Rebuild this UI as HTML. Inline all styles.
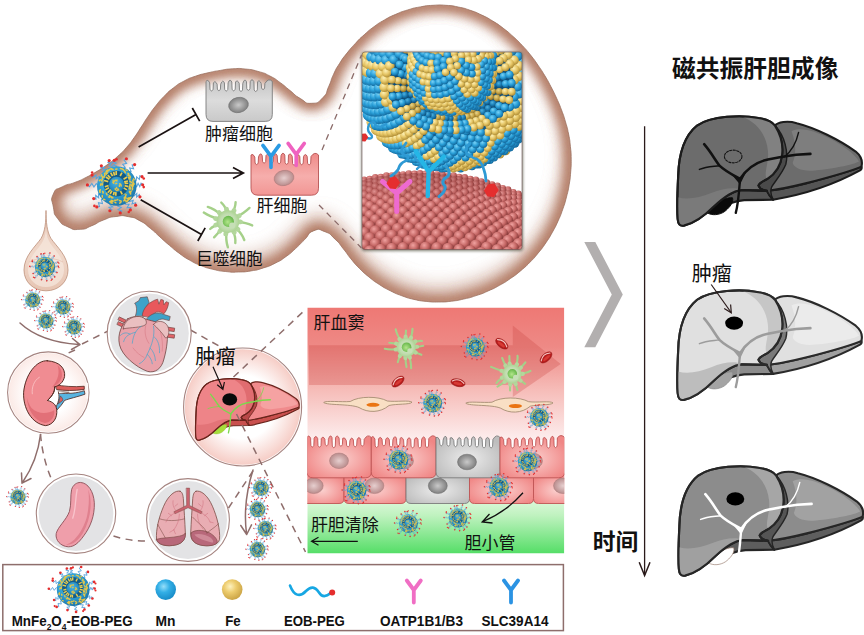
<!DOCTYPE html>
<html lang="zh"><head><meta charset="utf-8"><title>MnFe2O4-EOB-PEG</title>
<style>
html,body{margin:0;padding:0;background:#fff;}
svg{display:block;}
text{font-family:"Liberation Sans","Noto Sans CJK SC",sans-serif;fill:#111;}
.b{font-weight:bold;}
</style></head><body>
<svg width="864" height="635" viewBox="0 0 864 635">
<rect width="864" height="635" fill="#fff"/>
<defs><clipPath id="blobclip"><path d="M53.4,193.9C56.4,187.1 55.3,190.5 62.5,186.7C69.7,182.9 67.1,185.5 74.9,182.4C82.8,179.4 78.7,181.1 86.1,177.4C93.5,173.7 89.8,175.7 97.1,171.3C104.3,167 100.9,169.3 107.8,164.3C114.7,159.3 111.5,161.9 117.8,156.2C124.1,150.6 121.2,153.5 126.7,147.2C132.2,140.9 129.5,144.1 134.4,137.3C139.2,130.5 136.7,133.8 141.3,126.8C145.9,119.8 143.4,123.2 148.2,116.2C153,109.3 150.4,112.5 155.7,105.9C161,99.3 158.1,102.4 164,96.4C169.9,90.4 166.7,93.1 173.3,88C179.9,82.9 176.4,85.1 183.8,81.2C191.2,77.2 187.4,79 195.5,76.2C203.6,73.4 199.7,74.8 208,72.8C216.3,70.9 212.2,71.7 220.4,70.4C228.6,69 224.3,69.3 232.6,68.8C240.9,68.4 236.8,68.2 245.3,69C253.7,69.9 249.8,69.1 258,71.4C266.2,73.7 262.4,72.2 269.9,76C277.3,79.8 273.6,77.9 280.3,82.7C287.1,87.6 283.5,85.4 290.1,90.6C296.8,95.9 293.1,94.3 300.3,98.5C307.4,102.8 304.2,103.6 311.7,103.3C319.2,103 317.1,103.3 322.8,97.7C328.5,92 325.2,94.1 328.8,86.3C332.3,78.6 329.9,82 333.5,74.4C337.1,66.8 335,70.6 339.5,63.5C344,56.4 341.7,59.8 347,53.1C352.3,46.4 349.6,49.6 355.4,43.4C361.2,37.2 358.2,40.1 364.4,34.6C370.6,29 367.3,31.6 374,26.7C380.7,21.8 377.2,24.1 384.5,19.9C391.7,15.8 388,17.6 395.8,14.3C403.6,10.9 399.7,12.4 407.8,9.9C416,7.4 411.9,8.4 420.3,6.9C428.8,5.3 424.6,5.8 433.1,5.3C441.5,4.8 437.4,4.7 445.8,5.3C454.1,5.9 450,5.3 458.2,7C466.3,8.7 462.3,7.6 470.2,10.3C478.1,13 474.2,11.5 481.8,15.1C489.3,18.7 485.6,16.7 492.8,21.1C500,25.5 496.5,23.2 503.3,28.3C510,33.4 506.8,30.8 513.1,36.5C519.4,42.2 516.3,39.2 522.2,45.4C528,51.6 525.2,48.4 530.5,55C535.8,61.6 533.2,58.2 538,65.2C542.8,72.1 540.5,68.6 544.9,75.8C549.2,83 547.1,79.3 551,86.8C554.9,94.3 553.1,90.5 556.6,98.2C560.1,105.9 558.5,102 561.5,109.9C564.4,117.8 563.2,113.8 565.5,121.9C567.9,130 566.9,125.9 568.6,134.1C570.2,142.4 569.6,138.3 570.4,146.6C571.3,155 571.1,150.8 571.2,159.2C571.2,167.7 571.4,163.5 570.7,171.9C570,180.3 570.6,176.1 569.2,184.5C567.8,192.8 568.6,188.7 566.5,196.9C564.4,205.1 565.6,201.1 562.8,209.1C560,217.1 561.6,213.2 558.1,220.9C554.6,228.6 556.5,224.8 552.4,232.2C548.3,239.5 550.5,236 545.8,242.9C541,249.9 543.5,246.5 538.2,253C532.9,259.5 535.7,256.4 529.8,262.4C523.8,268.4 526.9,265.5 520.5,270.9C514,276.4 517.3,273.8 510.3,278.6C503.4,283.4 506.9,281.2 499.5,285.3C492.1,289.5 495.8,287.6 488,291C480.3,294.5 484.2,293 476.1,295.6C468.1,298.3 472.1,297.2 463.8,299C455.6,300.9 459.7,300.2 451.4,301.2C443,302.2 447.2,301.9 438.8,302C430.4,302.1 434.6,302.3 426.3,301.4C418,300.5 422.1,301.2 413.9,299.4C405.8,297.5 409.8,298.6 401.9,295.8C394,292.9 397.8,294.5 390.3,290.8C382.8,287 386.4,289.1 379.3,284.5C372.2,279.9 375.6,282.3 369,277C362.4,271.6 365.5,274.5 359.5,268.4C353.5,262.4 356.4,265.5 351,258.9C345.6,252.4 348.6,255.3 343.3,248.8C338,242.2 341.3,244.9 335.1,239.2C329,233.5 332.1,234.4 324.9,231.7C317.6,228.9 320.2,228.3 313.4,230.9C306.6,233.6 310.5,233.7 304.6,239.6C298.6,245.5 301.8,242.8 295.5,248.6C289.3,254.3 292.7,251.8 285.8,256.7C279,261.6 282.6,259.5 275.1,263.2C267.6,267 271.4,265.4 263.4,267.9C255.3,270.5 259.4,269.5 251,270.9C242.7,272.2 246.8,271.8 238.3,272C229.8,272.3 234,272.4 225.5,271.5C217.1,270.6 221.2,271.3 212.9,269.3C204.7,267.3 208.6,268.6 200.8,265.5C193,262.4 196.8,264.2 189.5,260.1C182.3,256 185.8,258.2 179.1,253.2C172.4,248.3 175.8,250.8 169.4,245.3C162.9,239.9 166.2,242.6 159.9,236.9C153.5,231.2 156.9,233.6 150.3,228.3C143.7,223 147.4,224.8 140.1,220.9C132.9,217.1 136.6,218.2 128.6,216.7C120.5,215.2 124.3,215.4 116,216.5C107.6,217.5 111.5,216.9 103.5,220C95.4,223 99.6,222.6 91.8,225.7C84,228.8 88.1,228.9 80.1,229.3C72.2,229.7 75.4,230.4 68,226.9C60.5,223.4 62.8,225.4 57.9,218.8C53,212.3 54.9,215.5 53.4,207.2C51.9,198.9 50.3,200.7 53.4,193.9Z"/></clipPath><filter id="blobblur" x="-10%" y="-10%" width="120%" height="120%"><feGaussianBlur stdDeviation="7"/><feComponentTransfer><feFuncA type="linear" slope="2.5"/></feComponentTransfer></filter><filter id="blobblur2" x="-10%" y="-10%" width="120%" height="120%"><feGaussianBlur stdDeviation="10"/><feComponentTransfer><feFuncA type="linear" slope="2.0"/></feComponentTransfer><feOffset dy="-8"/></filter></defs>
<g clip-path="url(#blobclip)"><path d="M53.4,193.9C56.4,187.1 55.3,190.5 62.5,186.7C69.7,182.9 67.1,185.5 74.9,182.4C82.8,179.4 78.7,181.1 86.1,177.4C93.5,173.7 89.8,175.7 97.1,171.3C104.3,167 100.9,169.3 107.8,164.3C114.7,159.3 111.5,161.9 117.8,156.2C124.1,150.6 121.2,153.5 126.7,147.2C132.2,140.9 129.5,144.1 134.4,137.3C139.2,130.5 136.7,133.8 141.3,126.8C145.9,119.8 143.4,123.2 148.2,116.2C153,109.3 150.4,112.5 155.7,105.9C161,99.3 158.1,102.4 164,96.4C169.9,90.4 166.7,93.1 173.3,88C179.9,82.9 176.4,85.1 183.8,81.2C191.2,77.2 187.4,79 195.5,76.2C203.6,73.4 199.7,74.8 208,72.8C216.3,70.9 212.2,71.7 220.4,70.4C228.6,69 224.3,69.3 232.6,68.8C240.9,68.4 236.8,68.2 245.3,69C253.7,69.9 249.8,69.1 258,71.4C266.2,73.7 262.4,72.2 269.9,76C277.3,79.8 273.6,77.9 280.3,82.7C287.1,87.6 283.5,85.4 290.1,90.6C296.8,95.9 293.1,94.3 300.3,98.5C307.4,102.8 304.2,103.6 311.7,103.3C319.2,103 317.1,103.3 322.8,97.7C328.5,92 325.2,94.1 328.8,86.3C332.3,78.6 329.9,82 333.5,74.4C337.1,66.8 335,70.6 339.5,63.5C344,56.4 341.7,59.8 347,53.1C352.3,46.4 349.6,49.6 355.4,43.4C361.2,37.2 358.2,40.1 364.4,34.6C370.6,29 367.3,31.6 374,26.7C380.7,21.8 377.2,24.1 384.5,19.9C391.7,15.8 388,17.6 395.8,14.3C403.6,10.9 399.7,12.4 407.8,9.9C416,7.4 411.9,8.4 420.3,6.9C428.8,5.3 424.6,5.8 433.1,5.3C441.5,4.8 437.4,4.7 445.8,5.3C454.1,5.9 450,5.3 458.2,7C466.3,8.7 462.3,7.6 470.2,10.3C478.1,13 474.2,11.5 481.8,15.1C489.3,18.7 485.6,16.7 492.8,21.1C500,25.5 496.5,23.2 503.3,28.3C510,33.4 506.8,30.8 513.1,36.5C519.4,42.2 516.3,39.2 522.2,45.4C528,51.6 525.2,48.4 530.5,55C535.8,61.6 533.2,58.2 538,65.2C542.8,72.1 540.5,68.6 544.9,75.8C549.2,83 547.1,79.3 551,86.8C554.9,94.3 553.1,90.5 556.6,98.2C560.1,105.9 558.5,102 561.5,109.9C564.4,117.8 563.2,113.8 565.5,121.9C567.9,130 566.9,125.9 568.6,134.1C570.2,142.4 569.6,138.3 570.4,146.6C571.3,155 571.1,150.8 571.2,159.2C571.2,167.7 571.4,163.5 570.7,171.9C570,180.3 570.6,176.1 569.2,184.5C567.8,192.8 568.6,188.7 566.5,196.9C564.4,205.1 565.6,201.1 562.8,209.1C560,217.1 561.6,213.2 558.1,220.9C554.6,228.6 556.5,224.8 552.4,232.2C548.3,239.5 550.5,236 545.8,242.9C541,249.9 543.5,246.5 538.2,253C532.9,259.5 535.7,256.4 529.8,262.4C523.8,268.4 526.9,265.5 520.5,270.9C514,276.4 517.3,273.8 510.3,278.6C503.4,283.4 506.9,281.2 499.5,285.3C492.1,289.5 495.8,287.6 488,291C480.3,294.5 484.2,293 476.1,295.6C468.1,298.3 472.1,297.2 463.8,299C455.6,300.9 459.7,300.2 451.4,301.2C443,302.2 447.2,301.9 438.8,302C430.4,302.1 434.6,302.3 426.3,301.4C418,300.5 422.1,301.2 413.9,299.4C405.8,297.5 409.8,298.6 401.9,295.8C394,292.9 397.8,294.5 390.3,290.8C382.8,287 386.4,289.1 379.3,284.5C372.2,279.9 375.6,282.3 369,277C362.4,271.6 365.5,274.5 359.5,268.4C353.5,262.4 356.4,265.5 351,258.9C345.6,252.4 348.6,255.3 343.3,248.8C338,242.2 341.3,244.9 335.1,239.2C329,233.5 332.1,234.4 324.9,231.7C317.6,228.9 320.2,228.3 313.4,230.9C306.6,233.6 310.5,233.7 304.6,239.6C298.6,245.5 301.8,242.8 295.5,248.6C289.3,254.3 292.7,251.8 285.8,256.7C279,261.6 282.6,259.5 275.1,263.2C267.6,267 271.4,265.4 263.4,267.9C255.3,270.5 259.4,269.5 251,270.9C242.7,272.2 246.8,271.8 238.3,272C229.8,272.3 234,272.4 225.5,271.5C217.1,270.6 221.2,271.3 212.9,269.3C204.7,267.3 208.6,268.6 200.8,265.5C193,262.4 196.8,264.2 189.5,260.1C182.3,256 185.8,258.2 179.1,253.2C172.4,248.3 175.8,250.8 169.4,245.3C162.9,239.9 166.2,242.6 159.9,236.9C153.5,231.2 156.9,233.6 150.3,228.3C143.7,223 147.4,224.8 140.1,220.9C132.9,217.1 136.6,218.2 128.6,216.7C120.5,215.2 124.3,215.4 116,216.5C107.6,217.5 111.5,216.9 103.5,220C95.4,223 99.6,222.6 91.8,225.7C84,228.8 88.1,228.9 80.1,229.3C72.2,229.7 75.4,230.4 68,226.9C60.5,223.4 62.8,225.4 57.9,218.8C53,212.3 54.9,215.5 53.4,207.2C51.9,198.9 50.3,200.7 53.4,193.9Z" fill="none" stroke="#caa595" stroke-width="6" filter="url(#blobblur2)"/><path d="M53.4,193.9C56.4,187.1 55.3,190.5 62.5,186.7C69.7,182.9 67.1,185.5 74.9,182.4C82.8,179.4 78.7,181.1 86.1,177.4C93.5,173.7 89.8,175.7 97.1,171.3C104.3,167 100.9,169.3 107.8,164.3C114.7,159.3 111.5,161.9 117.8,156.2C124.1,150.6 121.2,153.5 126.7,147.2C132.2,140.9 129.5,144.1 134.4,137.3C139.2,130.5 136.7,133.8 141.3,126.8C145.9,119.8 143.4,123.2 148.2,116.2C153,109.3 150.4,112.5 155.7,105.9C161,99.3 158.1,102.4 164,96.4C169.9,90.4 166.7,93.1 173.3,88C179.9,82.9 176.4,85.1 183.8,81.2C191.2,77.2 187.4,79 195.5,76.2C203.6,73.4 199.7,74.8 208,72.8C216.3,70.9 212.2,71.7 220.4,70.4C228.6,69 224.3,69.3 232.6,68.8C240.9,68.4 236.8,68.2 245.3,69C253.7,69.9 249.8,69.1 258,71.4C266.2,73.7 262.4,72.2 269.9,76C277.3,79.8 273.6,77.9 280.3,82.7C287.1,87.6 283.5,85.4 290.1,90.6C296.8,95.9 293.1,94.3 300.3,98.5C307.4,102.8 304.2,103.6 311.7,103.3C319.2,103 317.1,103.3 322.8,97.7C328.5,92 325.2,94.1 328.8,86.3C332.3,78.6 329.9,82 333.5,74.4C337.1,66.8 335,70.6 339.5,63.5C344,56.4 341.7,59.8 347,53.1C352.3,46.4 349.6,49.6 355.4,43.4C361.2,37.2 358.2,40.1 364.4,34.6C370.6,29 367.3,31.6 374,26.7C380.7,21.8 377.2,24.1 384.5,19.9C391.7,15.8 388,17.6 395.8,14.3C403.6,10.9 399.7,12.4 407.8,9.9C416,7.4 411.9,8.4 420.3,6.9C428.8,5.3 424.6,5.8 433.1,5.3C441.5,4.8 437.4,4.7 445.8,5.3C454.1,5.9 450,5.3 458.2,7C466.3,8.7 462.3,7.6 470.2,10.3C478.1,13 474.2,11.5 481.8,15.1C489.3,18.7 485.6,16.7 492.8,21.1C500,25.5 496.5,23.2 503.3,28.3C510,33.4 506.8,30.8 513.1,36.5C519.4,42.2 516.3,39.2 522.2,45.4C528,51.6 525.2,48.4 530.5,55C535.8,61.6 533.2,58.2 538,65.2C542.8,72.1 540.5,68.6 544.9,75.8C549.2,83 547.1,79.3 551,86.8C554.9,94.3 553.1,90.5 556.6,98.2C560.1,105.9 558.5,102 561.5,109.9C564.4,117.8 563.2,113.8 565.5,121.9C567.9,130 566.9,125.9 568.6,134.1C570.2,142.4 569.6,138.3 570.4,146.6C571.3,155 571.1,150.8 571.2,159.2C571.2,167.7 571.4,163.5 570.7,171.9C570,180.3 570.6,176.1 569.2,184.5C567.8,192.8 568.6,188.7 566.5,196.9C564.4,205.1 565.6,201.1 562.8,209.1C560,217.1 561.6,213.2 558.1,220.9C554.6,228.6 556.5,224.8 552.4,232.2C548.3,239.5 550.5,236 545.8,242.9C541,249.9 543.5,246.5 538.2,253C532.9,259.5 535.7,256.4 529.8,262.4C523.8,268.4 526.9,265.5 520.5,270.9C514,276.4 517.3,273.8 510.3,278.6C503.4,283.4 506.9,281.2 499.5,285.3C492.1,289.5 495.8,287.6 488,291C480.3,294.5 484.2,293 476.1,295.6C468.1,298.3 472.1,297.2 463.8,299C455.6,300.9 459.7,300.2 451.4,301.2C443,302.2 447.2,301.9 438.8,302C430.4,302.1 434.6,302.3 426.3,301.4C418,300.5 422.1,301.2 413.9,299.4C405.8,297.5 409.8,298.6 401.9,295.8C394,292.9 397.8,294.5 390.3,290.8C382.8,287 386.4,289.1 379.3,284.5C372.2,279.9 375.6,282.3 369,277C362.4,271.6 365.5,274.5 359.5,268.4C353.5,262.4 356.4,265.5 351,258.9C345.6,252.4 348.6,255.3 343.3,248.8C338,242.2 341.3,244.9 335.1,239.2C329,233.5 332.1,234.4 324.9,231.7C317.6,228.9 320.2,228.3 313.4,230.9C306.6,233.6 310.5,233.7 304.6,239.6C298.6,245.5 301.8,242.8 295.5,248.6C289.3,254.3 292.7,251.8 285.8,256.7C279,261.6 282.6,259.5 275.1,263.2C267.6,267 271.4,265.4 263.4,267.9C255.3,270.5 259.4,269.5 251,270.9C242.7,272.2 246.8,271.8 238.3,272C229.8,272.3 234,272.4 225.5,271.5C217.1,270.6 221.2,271.3 212.9,269.3C204.7,267.3 208.6,268.6 200.8,265.5C193,262.4 196.8,264.2 189.5,260.1C182.3,256 185.8,258.2 179.1,253.2C172.4,248.3 175.8,250.8 169.4,245.3C162.9,239.9 166.2,242.6 159.9,236.9C153.5,231.2 156.9,233.6 150.3,228.3C143.7,223 147.4,224.8 140.1,220.9C132.9,217.1 136.6,218.2 128.6,216.7C120.5,215.2 124.3,215.4 116,216.5C107.6,217.5 111.5,216.9 103.5,220C95.4,223 99.6,222.6 91.8,225.7C84,228.8 88.1,228.9 80.1,229.3C72.2,229.7 75.4,230.4 68,226.9C60.5,223.4 62.8,225.4 57.9,218.8C53,212.3 54.9,215.5 53.4,207.2C51.9,198.9 50.3,200.7 53.4,193.9Z" fill="none" stroke="#b27a64" stroke-width="6" filter="url(#blobblur)"/></g>
<path d="M53.4,193.9C56.4,187.1 55.3,190.5 62.5,186.7C69.7,182.9 67.1,185.5 74.9,182.4C82.8,179.4 78.7,181.1 86.1,177.4C93.5,173.7 89.8,175.7 97.1,171.3C104.3,167 100.9,169.3 107.8,164.3C114.7,159.3 111.5,161.9 117.8,156.2C124.1,150.6 121.2,153.5 126.7,147.2C132.2,140.9 129.5,144.1 134.4,137.3C139.2,130.5 136.7,133.8 141.3,126.8C145.9,119.8 143.4,123.2 148.2,116.2C153,109.3 150.4,112.5 155.7,105.9C161,99.3 158.1,102.4 164,96.4C169.9,90.4 166.7,93.1 173.3,88C179.9,82.9 176.4,85.1 183.8,81.2C191.2,77.2 187.4,79 195.5,76.2C203.6,73.4 199.7,74.8 208,72.8C216.3,70.9 212.2,71.7 220.4,70.4C228.6,69 224.3,69.3 232.6,68.8C240.9,68.4 236.8,68.2 245.3,69C253.7,69.9 249.8,69.1 258,71.4C266.2,73.7 262.4,72.2 269.9,76C277.3,79.8 273.6,77.9 280.3,82.7C287.1,87.6 283.5,85.4 290.1,90.6C296.8,95.9 293.1,94.3 300.3,98.5C307.4,102.8 304.2,103.6 311.7,103.3C319.2,103 317.1,103.3 322.8,97.7C328.5,92 325.2,94.1 328.8,86.3C332.3,78.6 329.9,82 333.5,74.4C337.1,66.8 335,70.6 339.5,63.5C344,56.4 341.7,59.8 347,53.1C352.3,46.4 349.6,49.6 355.4,43.4C361.2,37.2 358.2,40.1 364.4,34.6C370.6,29 367.3,31.6 374,26.7C380.7,21.8 377.2,24.1 384.5,19.9C391.7,15.8 388,17.6 395.8,14.3C403.6,10.9 399.7,12.4 407.8,9.9C416,7.4 411.9,8.4 420.3,6.9C428.8,5.3 424.6,5.8 433.1,5.3C441.5,4.8 437.4,4.7 445.8,5.3C454.1,5.9 450,5.3 458.2,7C466.3,8.7 462.3,7.6 470.2,10.3C478.1,13 474.2,11.5 481.8,15.1C489.3,18.7 485.6,16.7 492.8,21.1C500,25.5 496.5,23.2 503.3,28.3C510,33.4 506.8,30.8 513.1,36.5C519.4,42.2 516.3,39.2 522.2,45.4C528,51.6 525.2,48.4 530.5,55C535.8,61.6 533.2,58.2 538,65.2C542.8,72.1 540.5,68.6 544.9,75.8C549.2,83 547.1,79.3 551,86.8C554.9,94.3 553.1,90.5 556.6,98.2C560.1,105.9 558.5,102 561.5,109.9C564.4,117.8 563.2,113.8 565.5,121.9C567.9,130 566.9,125.9 568.6,134.1C570.2,142.4 569.6,138.3 570.4,146.6C571.3,155 571.1,150.8 571.2,159.2C571.2,167.7 571.4,163.5 570.7,171.9C570,180.3 570.6,176.1 569.2,184.5C567.8,192.8 568.6,188.7 566.5,196.9C564.4,205.1 565.6,201.1 562.8,209.1C560,217.1 561.6,213.2 558.1,220.9C554.6,228.6 556.5,224.8 552.4,232.2C548.3,239.5 550.5,236 545.8,242.9C541,249.9 543.5,246.5 538.2,253C532.9,259.5 535.7,256.4 529.8,262.4C523.8,268.4 526.9,265.5 520.5,270.9C514,276.4 517.3,273.8 510.3,278.6C503.4,283.4 506.9,281.2 499.5,285.3C492.1,289.5 495.8,287.6 488,291C480.3,294.5 484.2,293 476.1,295.6C468.1,298.3 472.1,297.2 463.8,299C455.6,300.9 459.7,300.2 451.4,301.2C443,302.2 447.2,301.9 438.8,302C430.4,302.1 434.6,302.3 426.3,301.4C418,300.5 422.1,301.2 413.9,299.4C405.8,297.5 409.8,298.6 401.9,295.8C394,292.9 397.8,294.5 390.3,290.8C382.8,287 386.4,289.1 379.3,284.5C372.2,279.9 375.6,282.3 369,277C362.4,271.6 365.5,274.5 359.5,268.4C353.5,262.4 356.4,265.5 351,258.9C345.6,252.4 348.6,255.3 343.3,248.8C338,242.2 341.3,244.9 335.1,239.2C329,233.5 332.1,234.4 324.9,231.7C317.6,228.9 320.2,228.3 313.4,230.9C306.6,233.6 310.5,233.7 304.6,239.6C298.6,245.5 301.8,242.8 295.5,248.6C289.3,254.3 292.7,251.8 285.8,256.7C279,261.6 282.6,259.5 275.1,263.2C267.6,267 271.4,265.4 263.4,267.9C255.3,270.5 259.4,269.5 251,270.9C242.7,272.2 246.8,271.8 238.3,272C229.8,272.3 234,272.4 225.5,271.5C217.1,270.6 221.2,271.3 212.9,269.3C204.7,267.3 208.6,268.6 200.8,265.5C193,262.4 196.8,264.2 189.5,260.1C182.3,256 185.8,258.2 179.1,253.2C172.4,248.3 175.8,250.8 169.4,245.3C162.9,239.9 166.2,242.6 159.9,236.9C153.5,231.2 156.9,233.6 150.3,228.3C143.7,223 147.4,224.8 140.1,220.9C132.9,217.1 136.6,218.2 128.6,216.7C120.5,215.2 124.3,215.4 116,216.5C107.6,217.5 111.5,216.9 103.5,220C95.4,223 99.6,222.6 91.8,225.7C84,228.8 88.1,228.9 80.1,229.3C72.2,229.7 75.4,230.4 68,226.9C60.5,223.4 62.8,225.4 57.9,218.8C53,212.3 54.9,215.5 53.4,207.2C51.9,198.9 50.3,200.7 53.4,193.9Z" fill="none" stroke="#9a705e" stroke-width="0.9" opacity="0.85"/>

<defs><radialGradient id="npg" cx="0.42" cy="0.38" r="0.62"><stop offset="0" stop-color="#58c0ea"/><stop offset="0.6" stop-color="#2f9fd4"/><stop offset="1" stop-color="#1e78ab"/></radialGradient><radialGradient id="npc" cx="0.45" cy="0.4" r="0.6"><stop offset="0" stop-color="#4ab6e6"/><stop offset="1" stop-color="#1d7fb6"/></radialGradient><g id="np"><path d="M18.5,-0.9L20.1,0.7L21.5,-2.8L23.2,0.6L24.5,-2.9L26.1,-1.3M16.8,7.8L17.4,10L20.2,7.5L20,11.2L22.8,8.7L23.4,10.9M12.9,13.2L12.9,15.6L16.6,14.5L15.4,18.1L19,17L19,19.4M9.1,16.1L8.6,18.5L12.4,18.5L10.4,21.8L14.3,21.7L13.7,24.2M2.4,18.3L0.9,20.3L4.5,21.7L1.4,23.9L5,25.2L3.5,27.2M-5,17.8L-7,18.8L-4.1,21.1L-7.8,21.6L-4.9,24L-7,25M-12.8,13.4L-15.5,13.7L-14.5,17.6L-18.5,16.8L-17.5,20.7L-20.2,21.1M-16.3,8.8L-18.5,8.1L-18.3,11.9L-21.3,9.6L-21.1,13.4L-23.3,12.7M-18.5,-0.7L-20.7,-2.4L-23.1,0.9L-25.2,-2.6L-27.6,0.7L-29.7,-1.1M-16.9,-7.4L-17.9,-9.7L-20.8,-7.3L-21.1,-11.1L-24.1,-8.7L-25,-11M-11.2,-14.7L-10.7,-16.9L-14.3,-16L-12.5,-19.2L-16.1,-18.3L-15.6,-20.4M-5.3,-17.7L-4.2,-19.8L-7.9,-20.4L-5.1,-23L-8.9,-23.6L-7.7,-25.7M-1.8,-18.4L-0.3,-20.1L-3.8,-21.2L-0.6,-23.1L-4.1,-24.2L-2.6,-25.9M6.2,-17.4L8.5,-18.9L6,-22L9.9,-22.9L7.4,-26.1L9.7,-27.5M11.9,-14.2L14.4,-14.6L13,-18.2L16.9,-17.5L15.5,-21.2L18,-21.6M17.4,-6.4L19.6,-5.4L20,-9.2L22.8,-6.6L23.3,-10.4L25.5,-9.4" fill="none" stroke="#5aa4dc" stroke-width="1.1"/><g fill="#e52d2d"><circle cx="26.1" cy="-1.3" r="1.6"/><circle cx="27.2" cy="1.1" r="1.3"/><circle cx="23.4" cy="10.9" r="1.6"/><circle cx="19" cy="19.4" r="1.6"/><circle cx="13.7" cy="24.2" r="1.6"/><circle cx="12.1" cy="26.2" r="1.3"/><circle cx="3.5" cy="27.2" r="1.6"/><circle cx="-7" cy="25" r="1.6"/><circle cx="-20.2" cy="21.1" r="1.6"/><circle cx="-22.6" cy="20.1" r="1.3"/><circle cx="-23.3" cy="12.7" r="1.6"/><circle cx="-29.7" cy="-1.1" r="1.6"/><circle cx="-25" cy="-11" r="1.6"/><circle cx="-24.9" cy="-13.6" r="1.3"/><circle cx="-15.6" cy="-20.4" r="1.6"/><circle cx="-7.7" cy="-25.7" r="1.6"/><circle cx="-2.6" cy="-25.9" r="1.6"/><circle cx="-0.3" cy="-27.1" r="1.3"/><circle cx="9.7" cy="-27.5" r="1.6"/><circle cx="18" cy="-21.6" r="1.6"/><circle cx="25.5" cy="-9.4" r="1.6"/><circle cx="27.2" cy="-7.5" r="1.3"/></g><circle r="20" fill="url(#npg)"/><path d="M12.8,5.3l0,1.1M-13.9,6.8l-0.5,-1.4M-3.9,12l-1.8,-1.2M-3.8,15.6l-2.3,0.7M-14.7,-7.3l0.4,-2.2M-13,-8.8l0.9,-1.6M16.2,-5.9l0.2,1.7M15.1,-0.7l0.7,2M11.2,-12.8l1.1,0.8M10.7,14.9l-0.7,1M-1.2,14.4l-1,0M-6.7,-17.1l1.7,-0.4M14.6,5.1l-1.5,1.7M5.2,-16.8l1.5,0.2M8.8,11.8l-0.9,1M8.1,7.9l-2.2,0.2M9,14.5l-1,-0.1M8.3,10.9l-0.5,1.7M13.5,-1.8l-0.3,2.2M16.9,-1.6l-0.7,2.1M-1.1,-17l1.3,-0.1M-17.4,6l0.8,-2.2M-12.1,13.8l-1.2,-0.4M12,-8.7l1.3,1.7M3.6,-17.6l2,0.4M-14.7,11.3l0,-1.6M7.7,14l-0.6,1M6.2,-16.8l0.8,0.9M-10.2,-15.5l1.3,-0.7M-10.9,-15l1.7,0M4.1,16.6l-1.2,0.7M11.8,-8.1l0,1.6M13.5,1.6l0.5,1.5M-15,-5.6l0.5,-1.4M-16.5,-0.8l0.7,-1.6M-16.8,6.3l-0.6,-1.7M11.2,-11l2.1,1M13.2,-4.9l1.7,1.4M13.3,-10l0.4,1.1M9.5,12l-2.2,0M9.3,-16.3l1.1,0.5M-7.2,11.4l-1.2,-0.4M15.9,2l-0.1,1.8M-14.8,-1.1l0.7,-0.8M16.4,-3l0.6,1M-0.9,17l-1,-0.7M-13.9,7.1l0.2,-1.1M-6.7,10.7l-0.7,-1.6M1,13.6l-1,0.6M-4.1,15.9l-1.7,0.3M-15.3,-5.1l0.4,-1.2M14.3,11.3l-1.2,1.8M15.5,-1.7l-0.5,1.4M-10.4,-11.9l0.9,-1.3M-8.4,-15.4l0.9,-1.1M-17.7,-5.4l1.1,-0.8M-14.1,-2.6l0.8,-1.9M11.5,-11l1.3,0.8M11,15.1l-1.8,0.8M-12.4,-12.7l1.9,-0.7M7.8,-15l0.9,1.6M13.1,0.3l-0.8,2M14,6.2l-0.1,2M4.5,15.4l-1.9,-0.8M-9.8,8.9l-0.8,-1.5M-12.2,-11l0.3,-1.9M-5.4,15.3l-1.7,0.6M-3.9,14.9l-1.7,-0.4M9.4,8.7l-0.7,2.1M17.1,-7.2l0.5,0.9M16.7,-3.4l0.8,1.4M12.3,13.6l-1.6,1.4M-5.1,-16.9l1.3,0.3M12.9,2l-0.1,1M-4,12l-1.2,-0.1M12.6,11.8l-2,1.1M-4.4,17.3l-1.5,-0.2M-15.9,-10l0.7,-1.3" fill="none" stroke="#e4c548" stroke-width="1.5" stroke-linecap="round"/><circle cx="-0.5" cy="-2.5" r="13" fill="#145c88"/><path d="M7.8,-2.7L11.6,-2.8M7.8,-0.4L11.8,0.6M6.9,1.9L10.2,3.9M3.6,4.9L5.5,8.5M-0.9,5.8L-1,9.8M-2.6,5.8L-3.4,9.4M-4.8,4.7L-6.8,8.1M-6.1,3.4L-9.2,6.8M-7.9,1.8L-11.6,3.9M-8.3,-0.4L-12.1,0.7M-8.6,-4.4L-12.9,-5.5M-7.5,-6.8L-11.1,-9M-6.3,-8.1L-9.2,-11M-4.3,-9.9L-6.2,-13.6M-2.3,-10.5L-3.2,-14.4M-0.6,-11.1L-0.6,-15.2M3.4,-10.1L5.2,-13.5M6.8,-6.8L10.4,-9M7.4,-4.2L11.3,-5.1" fill="none" stroke="#e8cc50" stroke-width="1.7"/><circle cx="-0.2" cy="-1.6" r="7.8" fill="url(#npc)"/><path d="M-2,-5.3l-1.1,1.3M0.2,-6.2l-0.2,1.2M0,-2.6l-1,0.3M-1.8,3.1l0.7,0.7M-1.7,-5.9l0.9,0.2M-4,-3.6l0.9,0.8M4.4,-1.1l0.1,1.1M-3.8,-6l0.1,1.7M-0.1,1.5l-1.1,1.4M3.1,-0.9l-0.7,1.1M-0.4,2.5l-1.4,0.3M2.6,-0.8l0.3,1.1M1.4,3.3l-1.1,1.2M1,2.7l1,1.5M0.5,4l-0.7,0.7M2.9,-2.4l1.1,0.7" fill="none" stroke="#e4c548" stroke-width="1.3" stroke-linecap="round"/></g></defs>

<defs><radialGradient id="bb" cx="0.38" cy="0.32" r="0.75"><stop offset="0" stop-color="#7ad2f6"/><stop offset="0.5" stop-color="#2a9fd8"/><stop offset="1" stop-color="#0f5f92"/></radialGradient><radialGradient id="by" cx="0.38" cy="0.32" r="0.75"><stop offset="0" stop-color="#fdf0b4"/><stop offset="0.5" stop-color="#e6c666"/><stop offset="1" stop-color="#a5822c"/></radialGradient><radialGradient id="bp" cx="0.38" cy="0.32" r="0.75"><stop offset="0" stop-color="#f0a2a0"/><stop offset="0.5" stop-color="#c46664"/><stop offset="1" stop-color="#6e2828"/></radialGradient><radialGradient id="bbd" cx="0.38" cy="0.32" r="0.75"><stop offset="0" stop-color="#4fb2e0"/><stop offset="0.5" stop-color="#1c7eb6"/><stop offset="1" stop-color="#0b4870"/></radialGradient><radialGradient id="byd" cx="0.38" cy="0.32" r="0.75"><stop offset="0" stop-color="#e6d48c"/><stop offset="0.5" stop-color="#c8a648"/><stop offset="1" stop-color="#80621c"/></radialGradient><clipPath id="insclip"><rect x="362" y="52" width="160" height="197.5" rx="3"/></clipPath><filter id="insshadow" x="-10%" y="-10%" width="120%" height="120%"><feGaussianBlur stdDeviation="1.6"/></filter><linearGradient id="floorshade" x1="0" y1="0" x2="0" y2="1"><stop offset="0" stop-color="#6a2020" stop-opacity="0.35"/><stop offset="0.35" stop-color="#6a2020" stop-opacity="0"/></linearGradient></defs>
<rect x="361.5" y="52" width="161.5" height="199.0" rx="3" fill="#554" opacity="0.75" filter="url(#insshadow)"/><g clip-path="url(#insclip)"><rect x="362" y="52" width="160" height="197.5" fill="#fff"/><path d="M357,181.2 A246.0,246.0 0 0 1 527,197.5 V251.5 H357 Z" fill="#a85050"/><g fill="url(#bp)"><circle cx="364.2" cy="179.7" r="3.3"/><circle cx="375.3" cy="177.4" r="3.3"/><circle cx="386.4" cy="175.6" r="3.3"/><circle cx="397.5" cy="174.3" r="3.3"/><circle cx="408.8" cy="173.6" r="3.3"/><circle cx="420" cy="173.3" r="3.3"/><circle cx="431.2" cy="173.6" r="3.3"/><circle cx="442.5" cy="174.3" r="3.3"/><circle cx="453.6" cy="175.6" r="3.3"/><circle cx="464.7" cy="177.4" r="3.3"/><circle cx="475.8" cy="179.7" r="3.3"/><circle cx="486.7" cy="182.5" r="3.3"/><circle cx="497.4" cy="185.8" r="3.3"/><circle cx="508" cy="189.6" r="3.3"/><circle cx="518.4" cy="193.8" r="3.3"/><circle cx="358.8" cy="181.7" r="3.4"/><circle cx="369.7" cy="179.2" r="3.4"/><circle cx="380.8" cy="177.1" r="3.4"/><circle cx="391.9" cy="175.6" r="3.4"/><circle cx="403.1" cy="174.6" r="3.4"/><circle cx="414.4" cy="174" r="3.4"/><circle cx="425.6" cy="174" r="3.4"/><circle cx="436.9" cy="174.6" r="3.4"/><circle cx="448.1" cy="175.6" r="3.4"/><circle cx="459.2" cy="177.1" r="3.4"/><circle cx="470.3" cy="179.2" r="3.4"/><circle cx="481.2" cy="181.7" r="3.4"/><circle cx="492" cy="184.7" r="3.4"/><circle cx="502.7" cy="188.3" r="3.4"/><circle cx="513.2" cy="192.3" r="3.4"/><circle cx="523.5" cy="196.7" r="3.4"/><circle cx="364.2" cy="181.4" r="3.6"/><circle cx="375.3" cy="179.1" r="3.6"/><circle cx="386.4" cy="177.3" r="3.6"/><circle cx="397.5" cy="176.1" r="3.6"/><circle cx="408.8" cy="175.3" r="3.6"/><circle cx="420" cy="175" r="3.6"/><circle cx="431.2" cy="175.3" r="3.6"/><circle cx="442.5" cy="176.1" r="3.6"/><circle cx="453.6" cy="177.3" r="3.6"/><circle cx="464.7" cy="179.1" r="3.6"/><circle cx="475.8" cy="181.4" r="3.6"/><circle cx="486.7" cy="184.2" r="3.6"/><circle cx="497.4" cy="187.4" r="3.6"/><circle cx="508" cy="191.2" r="3.6"/><circle cx="518.4" cy="195.4" r="3.6"/><circle cx="358.8" cy="184.1" r="3.7"/><circle cx="369.7" cy="181.6" r="3.7"/><circle cx="380.8" cy="179.6" r="3.7"/><circle cx="391.9" cy="178.1" r="3.7"/><circle cx="403.1" cy="177" r="3.7"/><circle cx="414.4" cy="176.5" r="3.7"/><circle cx="425.6" cy="176.5" r="3.7"/><circle cx="436.9" cy="177" r="3.7"/><circle cx="448.1" cy="178.1" r="3.7"/><circle cx="459.2" cy="179.6" r="3.7"/><circle cx="470.3" cy="181.6" r="3.7"/><circle cx="481.2" cy="184.1" r="3.7"/><circle cx="492" cy="187.1" r="3.7"/><circle cx="502.7" cy="190.6" r="3.7"/><circle cx="513.2" cy="194.6" r="3.7"/><circle cx="523.5" cy="199" r="3.7"/><circle cx="364.2" cy="184.5" r="3.9"/><circle cx="375.3" cy="182.3" r="3.9"/><circle cx="386.4" cy="180.5" r="3.9"/><circle cx="397.5" cy="179.3" r="3.9"/><circle cx="408.8" cy="178.5" r="3.9"/><circle cx="420" cy="178.3" r="3.9"/><circle cx="431.2" cy="178.5" r="3.9"/><circle cx="442.5" cy="179.3" r="3.9"/><circle cx="453.6" cy="180.5" r="3.9"/><circle cx="464.7" cy="182.3" r="3.9"/><circle cx="475.8" cy="184.5" r="3.9"/><circle cx="486.7" cy="187.3" r="3.9"/><circle cx="497.4" cy="190.5" r="3.9"/><circle cx="508" cy="194.2" r="3.9"/><circle cx="518.4" cy="198.4" r="3.9"/><circle cx="358.8" cy="188" r="4"/><circle cx="369.7" cy="185.5" r="4"/><circle cx="380.8" cy="183.5" r="4"/><circle cx="391.9" cy="182" r="4"/><circle cx="403.1" cy="181" r="4"/><circle cx="414.4" cy="180.5" r="4"/><circle cx="425.6" cy="180.5" r="4"/><circle cx="436.9" cy="181" r="4"/><circle cx="448.1" cy="182" r="4"/><circle cx="459.2" cy="183.5" r="4"/><circle cx="470.3" cy="185.5" r="4"/><circle cx="481.2" cy="188" r="4"/><circle cx="492" cy="190.9" r="4"/><circle cx="502.7" cy="194.4" r="4"/><circle cx="513.2" cy="198.3" r="4"/><circle cx="523.5" cy="202.6" r="4"/><circle cx="364.2" cy="189.2" r="4.2"/><circle cx="375.3" cy="186.9" r="4.2"/><circle cx="386.4" cy="185.2" r="4.2"/><circle cx="397.5" cy="184" r="4.2"/><circle cx="408.8" cy="183.3" r="4.2"/><circle cx="420" cy="183" r="4.2"/><circle cx="431.2" cy="183.3" r="4.2"/><circle cx="442.5" cy="184" r="4.2"/><circle cx="453.6" cy="185.2" r="4.2"/><circle cx="464.7" cy="186.9" r="4.2"/><circle cx="475.8" cy="189.2" r="4.2"/><circle cx="486.7" cy="191.8" r="4.2"/><circle cx="497.4" cy="195" r="4.2"/><circle cx="508" cy="198.6" r="4.2"/><circle cx="518.4" cy="202.7" r="4.2"/><circle cx="358.8" cy="193.3" r="4.3"/><circle cx="369.7" cy="190.8" r="4.3"/><circle cx="380.8" cy="188.9" r="4.3"/><circle cx="391.9" cy="187.4" r="4.3"/><circle cx="403.1" cy="186.5" r="4.3"/><circle cx="414.4" cy="186" r="4.3"/><circle cx="425.6" cy="186" r="4.3"/><circle cx="436.9" cy="186.5" r="4.3"/><circle cx="448.1" cy="187.4" r="4.3"/><circle cx="459.2" cy="188.9" r="4.3"/><circle cx="470.3" cy="190.8" r="4.3"/><circle cx="481.2" cy="193.3" r="4.3"/><circle cx="492" cy="196.1" r="4.3"/><circle cx="502.7" cy="199.5" r="4.3"/><circle cx="513.2" cy="203.3" r="4.3"/><circle cx="523.5" cy="207.6" r="4.3"/><circle cx="364.2" cy="195.2" r="4.5"/><circle cx="375.3" cy="193" r="4.5"/><circle cx="386.4" cy="191.4" r="4.5"/><circle cx="397.5" cy="190.2" r="4.5"/><circle cx="408.8" cy="189.4" r="4.5"/><circle cx="420" cy="189.2" r="4.5"/><circle cx="431.2" cy="189.4" r="4.5"/><circle cx="442.5" cy="190.2" r="4.5"/><circle cx="453.6" cy="191.4" r="4.5"/><circle cx="464.7" cy="193" r="4.5"/><circle cx="475.8" cy="195.2" r="4.5"/><circle cx="486.7" cy="197.8" r="4.5"/><circle cx="497.4" cy="200.9" r="4.5"/><circle cx="508" cy="204.4" r="4.5"/><circle cx="518.4" cy="208.4" r="4.5"/><circle cx="358.8" cy="200" r="4.6"/><circle cx="369.7" cy="197.6" r="4.6"/><circle cx="380.8" cy="195.7" r="4.6"/><circle cx="391.9" cy="194.3" r="4.6"/><circle cx="403.1" cy="193.4" r="4.6"/><circle cx="414.4" cy="192.9" r="4.6"/><circle cx="425.6" cy="192.9" r="4.6"/><circle cx="436.9" cy="193.4" r="4.6"/><circle cx="448.1" cy="194.3" r="4.6"/><circle cx="459.2" cy="195.7" r="4.6"/><circle cx="470.3" cy="197.6" r="4.6"/><circle cx="481.2" cy="200" r="4.6"/><circle cx="492" cy="202.8" r="4.6"/><circle cx="502.7" cy="206" r="4.6"/><circle cx="513.2" cy="209.7" r="4.6"/><circle cx="523.5" cy="213.8" r="4.6"/><circle cx="364.2" cy="202.6" r="4.8"/><circle cx="375.3" cy="200.5" r="4.8"/><circle cx="386.4" cy="198.9" r="4.8"/><circle cx="397.5" cy="197.8" r="4.8"/><circle cx="408.8" cy="197.1" r="4.8"/><circle cx="420" cy="196.8" r="4.8"/><circle cx="431.2" cy="197.1" r="4.8"/><circle cx="442.5" cy="197.8" r="4.8"/><circle cx="453.6" cy="198.9" r="4.8"/><circle cx="464.7" cy="200.5" r="4.8"/><circle cx="475.8" cy="202.6" r="4.8"/><circle cx="486.7" cy="205.1" r="4.8"/><circle cx="497.4" cy="208.1" r="4.8"/><circle cx="508" cy="211.5" r="4.8"/><circle cx="518.4" cy="215.4" r="4.8"/><circle cx="358.8" cy="208" r="4.9"/><circle cx="369.7" cy="205.8" r="4.9"/><circle cx="380.8" cy="203.9" r="4.9"/><circle cx="391.9" cy="202.6" r="4.9"/><circle cx="403.1" cy="201.7" r="4.9"/><circle cx="414.4" cy="201.2" r="4.9"/><circle cx="425.6" cy="201.2" r="4.9"/><circle cx="436.9" cy="201.7" r="4.9"/><circle cx="448.1" cy="202.6" r="4.9"/><circle cx="459.2" cy="203.9" r="4.9"/><circle cx="470.3" cy="205.8" r="4.9"/><circle cx="481.2" cy="208" r="4.9"/><circle cx="492" cy="210.7" r="4.9"/><circle cx="502.7" cy="213.8" r="4.9"/><circle cx="513.2" cy="217.4" r="4.9"/><circle cx="523.5" cy="221.4" r="4.9"/><circle cx="364.2" cy="211.4" r="5.1"/><circle cx="375.3" cy="209.4" r="5.1"/><circle cx="386.4" cy="207.8" r="5.1"/><circle cx="397.5" cy="206.7" r="5.1"/><circle cx="408.8" cy="206" r="5.1"/><circle cx="420" cy="205.8" r="5.1"/><circle cx="431.2" cy="206" r="5.1"/><circle cx="442.5" cy="206.7" r="5.1"/><circle cx="453.6" cy="207.8" r="5.1"/><circle cx="464.7" cy="209.4" r="5.1"/><circle cx="475.8" cy="211.4" r="5.1"/><circle cx="486.7" cy="213.8" r="5.1"/><circle cx="497.4" cy="216.7" r="5.1"/><circle cx="508" cy="219.9" r="5.1"/><circle cx="518.4" cy="223.6" r="5.1"/><circle cx="358.8" cy="217.4" r="5.2"/><circle cx="369.7" cy="215.2" r="5.2"/><circle cx="380.8" cy="213.5" r="5.2"/><circle cx="391.9" cy="212.2" r="5.2"/><circle cx="403.1" cy="211.3" r="5.2"/><circle cx="414.4" cy="210.9" r="5.2"/><circle cx="425.6" cy="210.9" r="5.2"/><circle cx="436.9" cy="211.3" r="5.2"/><circle cx="448.1" cy="212.2" r="5.2"/><circle cx="459.2" cy="213.5" r="5.2"/><circle cx="470.3" cy="215.2" r="5.2"/><circle cx="481.2" cy="217.4" r="5.2"/><circle cx="492" cy="220" r="5.2"/><circle cx="502.7" cy="222.9" r="5.2"/><circle cx="513.2" cy="226.4" r="5.2"/><circle cx="523.5" cy="230.2" r="5.2"/><circle cx="364.2" cy="221.4" r="5.3"/><circle cx="375.3" cy="219.5" r="5.3"/><circle cx="386.4" cy="218.1" r="5.3"/><circle cx="397.5" cy="217" r="5.3"/><circle cx="408.8" cy="216.4" r="5.3"/><circle cx="420" cy="216.1" r="5.3"/><circle cx="431.2" cy="216.4" r="5.3"/><circle cx="442.5" cy="217" r="5.3"/><circle cx="453.6" cy="218.1" r="5.3"/><circle cx="464.7" cy="219.5" r="5.3"/><circle cx="475.8" cy="221.4" r="5.3"/><circle cx="486.7" cy="223.7" r="5.3"/><circle cx="497.4" cy="226.5" r="5.3"/><circle cx="508" cy="229.6" r="5.3"/><circle cx="518.4" cy="233.1" r="5.3"/><circle cx="358.8" cy="228" r="5.4"/><circle cx="369.7" cy="225.9" r="5.4"/><circle cx="380.8" cy="224.3" r="5.4"/><circle cx="391.9" cy="223.1" r="5.4"/><circle cx="403.1" cy="222.2" r="5.4"/><circle cx="414.4" cy="221.8" r="5.4"/><circle cx="425.6" cy="221.8" r="5.4"/><circle cx="436.9" cy="222.2" r="5.4"/><circle cx="448.1" cy="223.1" r="5.4"/><circle cx="459.2" cy="224.3" r="5.4"/><circle cx="470.3" cy="225.9" r="5.4"/><circle cx="481.2" cy="228" r="5.4"/><circle cx="492" cy="230.4" r="5.4"/><circle cx="502.7" cy="233.3" r="5.4"/><circle cx="513.2" cy="236.5" r="5.4"/><circle cx="523.5" cy="240.1" r="5.4"/><circle cx="364.2" cy="232.7" r="5.6"/><circle cx="375.3" cy="230.9" r="5.6"/><circle cx="386.4" cy="229.5" r="5.6"/><circle cx="397.5" cy="228.5" r="5.6"/><circle cx="408.8" cy="227.9" r="5.6"/><circle cx="420" cy="227.7" r="5.6"/><circle cx="431.2" cy="227.9" r="5.6"/><circle cx="442.5" cy="228.5" r="5.6"/><circle cx="453.6" cy="229.5" r="5.6"/><circle cx="464.7" cy="230.9" r="5.6"/><circle cx="475.8" cy="232.7" r="5.6"/><circle cx="486.7" cy="234.9" r="5.6"/><circle cx="497.4" cy="237.4" r="5.6"/><circle cx="508" cy="240.4" r="5.6"/><circle cx="518.4" cy="243.7" r="5.6"/><circle cx="358.8" cy="239.8" r="5.7"/><circle cx="369.7" cy="237.9" r="5.7"/><circle cx="380.8" cy="236.3" r="5.7"/><circle cx="391.9" cy="235.2" r="5.7"/><circle cx="403.1" cy="234.4" r="5.7"/><circle cx="414.4" cy="234" r="5.7"/><circle cx="425.6" cy="234" r="5.7"/><circle cx="436.9" cy="234.4" r="5.7"/><circle cx="448.1" cy="235.2" r="5.7"/><circle cx="459.2" cy="236.3" r="5.7"/><circle cx="470.3" cy="237.9" r="5.7"/><circle cx="481.2" cy="239.8" r="5.7"/><circle cx="492" cy="242.1" r="5.7"/><circle cx="502.7" cy="244.7" r="5.7"/><circle cx="513.2" cy="247.8" r="5.7"/><circle cx="523.5" cy="251.1" r="5.7"/><circle cx="364.2" cy="245.1" r="5.7"/><circle cx="375.3" cy="243.5" r="5.7"/><circle cx="386.4" cy="242.2" r="5.7"/><circle cx="397.5" cy="241.2" r="5.7"/><circle cx="408.8" cy="240.7" r="5.7"/><circle cx="420" cy="240.5" r="5.7"/><circle cx="431.2" cy="240.7" r="5.7"/><circle cx="442.5" cy="241.2" r="5.7"/><circle cx="453.6" cy="242.2" r="5.7"/><circle cx="464.7" cy="243.5" r="5.7"/><circle cx="475.8" cy="245.1" r="5.7"/><circle cx="486.7" cy="247.2" r="5.7"/><circle cx="497.4" cy="249.6" r="5.7"/><circle cx="508" cy="252.3" r="5.7"/><circle cx="518.4" cy="255.4" r="5.7"/><circle cx="358.8" cy="252.7" r="5.7"/><circle cx="369.7" cy="250.9" r="5.7"/><circle cx="380.8" cy="249.5" r="5.7"/><circle cx="391.9" cy="248.4" r="5.7"/><circle cx="403.1" cy="247.7" r="5.7"/><circle cx="414.4" cy="247.3" r="5.7"/><circle cx="425.6" cy="247.3" r="5.7"/><circle cx="436.9" cy="247.7" r="5.7"/><circle cx="448.1" cy="248.4" r="5.7"/><circle cx="459.2" cy="249.5" r="5.7"/><circle cx="470.3" cy="250.9" r="5.7"/><circle cx="481.2" cy="252.7" r="5.7"/><circle cx="492" cy="254.8" r="5.7"/><circle cx="397.5" cy="255" r="5.7"/><circle cx="408.8" cy="254.5" r="5.7"/><circle cx="420" cy="254.4" r="5.7"/><circle cx="431.2" cy="254.5" r="5.7"/><circle cx="442.5" cy="255" r="5.7"/></g><path d="M357,181.2 A246.0,246.0 0 0 1 527,197.5 V251.5 H357 Z" fill="url(#floorshade)"/>
<circle cx="451.0" cy="78.0" r="90.0" fill="#125a8a"/><g fill="url(#by)"><circle cx="364.1" cy="105.1" r="5.6"/><circle cx="505.7" cy="150.7" r="4.5"/></g><g fill="url(#bb)"><circle cx="423.3" cy="164.7" r="4"/><circle cx="514.7" cy="143" r="4.8"/><circle cx="522.6" cy="134.1" r="5"/></g><g fill="url(#by)"><circle cx="362" cy="97" r="5.7"/></g><g fill="url(#bb)"><circle cx="392.8" cy="147.9" r="4.8"/><circle cx="479" cy="164.5" r="4"/></g><g fill="url(#by)"><circle cx="360.7" cy="88.8" r="5.7"/></g><g fill="url(#bb)"><circle cx="386.7" cy="142.3" r="4.9"/><circle cx="441.8" cy="168.4" r="4"/><circle cx="360.1" cy="80.5" r="5.8"/><circle cx="460.6" cy="168.4" r="4"/><circle cx="415.9" cy="161.8" r="4.1"/><circle cx="489.8" cy="160.1" r="4"/></g><g fill="url(#by)"><circle cx="381.2" cy="136.1" r="5.1"/></g><g fill="url(#bb)"><circle cx="360.4" cy="72.2" r="5.7"/></g><g fill="url(#by)"><circle cx="376.2" cy="129.5" r="5.3"/><circle cx="361.3" cy="64" r="5.7"/></g><g fill="url(#bb)"><circle cx="408.7" cy="158.3" r="4.3"/></g><g fill="url(#by)"><circle cx="500.1" cy="154.3" r="4.3"/></g><g fill="url(#bb)"><circle cx="434.2" cy="167.1" r="4"/><circle cx="472" cy="166.2" r="4"/></g><g fill="url(#by)"><circle cx="371.9" cy="122.3" r="5.4"/></g><g fill="url(#bb)"><circle cx="525.8" cy="129.2" r="5.1"/><circle cx="509.7" cy="147.1" r="4.6"/></g><g fill="url(#by)"><circle cx="363.1" cy="56" r="5.7"/></g><g fill="url(#bb)"><circle cx="518.3" cy="138.7" r="4.9"/></g><g fill="url(#by)"><circle cx="453.2" cy="168.6" r="4"/></g><g fill="url(#bb)"><circle cx="368.2" cy="114.8" r="5.5"/><circle cx="401.7" cy="154" r="4.5"/><circle cx="365.3" cy="107" r="5.6"/></g><g fill="url(#by)"><circle cx="365.5" cy="48.3" r="5.6"/></g><g fill="url(#bb)"><circle cx="426.5" cy="165.1" r="4"/><circle cx="483.2" cy="162.6" r="4"/></g><g fill="url(#by)"><circle cx="363" cy="99" r="5.7"/></g><g fill="url(#bb)"><circle cx="395.1" cy="149.1" r="4.7"/></g><g fill="url(#by)"><circle cx="361.6" cy="90.8" r="5.7"/></g><g fill="url(#bb)"><circle cx="445.5" cy="168.2" r="4"/></g><g fill="url(#by)"><circle cx="464.7" cy="167.3" r="4"/></g><g fill="url(#bb)"><circle cx="493.9" cy="157.4" r="4.1"/><circle cx="389" cy="143.6" r="4.9"/><circle cx="419" cy="162.4" r="4"/><circle cx="360.9" cy="82.6" r="5.7"/><circle cx="504.1" cy="150.9" r="4.4"/></g><g fill="url(#by)"><circle cx="383.3" cy="137.5" r="5.1"/></g><g fill="url(#bb)"><circle cx="361" cy="74.3" r="5.7"/><circle cx="521.6" cy="134" r="5"/><circle cx="513.3" cy="143" r="4.7"/><circle cx="476.1" cy="164.4" r="4"/></g><g fill="url(#by)"><circle cx="378.3" cy="130.9" r="5.2"/></g><g fill="url(#bb)"><circle cx="411.7" cy="158.9" r="4.2"/><circle cx="437.8" cy="167" r="4"/></g><g fill="url(#by)"><circle cx="361.9" cy="66.2" r="5.7"/><circle cx="457.1" cy="167.6" r="4"/><circle cx="373.8" cy="123.9" r="5.3"/><circle cx="363.5" cy="58.3" r="5.7"/></g><g fill="url(#bb)"><circle cx="404.7" cy="154.7" r="4.4"/><circle cx="370" cy="116.4" r="5.5"/><circle cx="487.3" cy="160" r="4"/><circle cx="430.1" cy="165" r="4"/><circle cx="367" cy="108.7" r="5.5"/></g><g fill="url(#by)"><circle cx="365.8" cy="50.7" r="5.6"/></g><g fill="url(#bb)"><circle cx="497.9" cy="154.1" r="4.2"/><circle cx="398" cy="149.9" r="4.6"/></g><g fill="url(#by)"><circle cx="468.8" cy="165.5" r="4"/><circle cx="364.6" cy="100.7" r="5.6"/><circle cx="449.4" cy="167.3" r="4"/></g><g fill="url(#bb)"><circle cx="524.4" cy="128.8" r="5.1"/><circle cx="507.8" cy="146.8" r="4.5"/><circle cx="516.6" cy="138.4" r="4.8"/><circle cx="363.1" cy="92.6" r="5.7"/><circle cx="391.7" cy="144.5" r="4.8"/><circle cx="422.5" cy="162.4" r="4"/><circle cx="362.3" cy="84.5" r="5.7"/></g><g fill="url(#by)"><circle cx="480.2" cy="161.9" r="4"/><circle cx="386" cy="138.5" r="5"/></g><g fill="url(#bb)"><circle cx="362.3" cy="76.3" r="5.7"/><circle cx="441.6" cy="166.2" r="4"/><circle cx="415.1" cy="159" r="4.1"/></g><g fill="url(#by)"><circle cx="461.2" cy="166" r="4"/><circle cx="380.8" cy="132" r="5.1"/></g><g fill="url(#bb)"><circle cx="491.3" cy="156.7" r="4"/></g><g fill="url(#by)"><circle cx="363.1" cy="68.3" r="5.7"/></g><g fill="url(#bb)"><circle cx="376.2" cy="125" r="5.3"/><circle cx="501.6" cy="150.2" r="4.3"/><circle cx="407.9" cy="154.9" r="4.3"/><circle cx="526.7" cy="123.2" r="5.2"/></g><g fill="url(#by)"><circle cx="364.6" cy="60.5" r="5.6"/></g><g fill="url(#bb)"><circle cx="372.4" cy="117.7" r="5.4"/><circle cx="433.9" cy="164.3" r="4"/><circle cx="511.1" cy="142.3" r="4.6"/><circle cx="519.5" cy="133.2" r="4.9"/></g><g fill="url(#by)"><circle cx="472.9" cy="163.2" r="4"/></g><g fill="url(#bb)"><circle cx="369.2" cy="110" r="5.5"/></g><g fill="url(#by)"><circle cx="453.4" cy="165.7" r="4"/></g><g fill="url(#bb)"><circle cx="401.2" cy="150.2" r="4.5"/></g><g fill="url(#by)"><circle cx="366.9" cy="53" r="5.6"/></g><g fill="url(#bb)"><circle cx="366.8" cy="102.2" r="5.6"/><circle cx="426.2" cy="161.8" r="4"/></g><g fill="url(#by)"><circle cx="484.2" cy="158.8" r="4"/></g><g fill="url(#bb)"><circle cx="394.9" cy="144.9" r="4.7"/><circle cx="365.2" cy="94.2" r="5.6"/><circle cx="364.3" cy="86.1" r="5.6"/></g><g fill="url(#by)"><circle cx="389" cy="139" r="4.9"/></g><g fill="url(#bb)"><circle cx="445.6" cy="164.8" r="4"/><circle cx="495" cy="153" r="4.1"/></g><g fill="url(#by)"><circle cx="465.3" cy="163.7" r="4"/></g><g fill="url(#bb)"><circle cx="418.7" cy="158.5" r="4"/><circle cx="364.3" cy="78.1" r="5.6"/><circle cx="505" cy="145.8" r="4.4"/><circle cx="522" cy="127.7" r="5"/></g><g fill="url(#by)"><circle cx="383.8" cy="132.6" r="5"/></g><g fill="url(#bb)"><circle cx="514.1" cy="137.3" r="4.7"/></g><g fill="url(#by)"><circle cx="365" cy="70.2" r="5.6"/></g><g fill="url(#bb)"><circle cx="379.2" cy="125.7" r="5.2"/></g><g fill="url(#by)"><circle cx="476.9" cy="160.2" r="4"/></g><g fill="url(#bb)"><circle cx="411.6" cy="154.6" r="4.2"/><circle cx="437.8" cy="163.1" r="4"/><circle cx="375.2" cy="118.5" r="5.3"/></g><g fill="url(#by)"><circle cx="457.5" cy="163.6" r="4"/><circle cx="366.6" cy="62.5" r="5.6"/></g><g fill="url(#bb)"><circle cx="372" cy="111" r="5.4"/><circle cx="404.7" cy="150" r="4.4"/><circle cx="488" cy="155.1" r="4"/></g><g fill="url(#by)"><circle cx="368.8" cy="55.1" r="5.5"/></g><g fill="url(#bb)"><circle cx="369.6" cy="103.2" r="5.5"/><circle cx="430.1" cy="160.7" r="4"/><circle cx="498.5" cy="148.6" r="4.2"/><circle cx="523.9" cy="121.9" r="5.1"/><circle cx="398.3" cy="144.8" r="4.6"/><circle cx="508.1" cy="140.8" r="4.5"/><circle cx="367.9" cy="95.3" r="5.5"/></g><g fill="url(#by)"><circle cx="469.3" cy="160.9" r="4"/></g><g fill="url(#bb)"><circle cx="516.6" cy="131.9" r="4.8"/><circle cx="449.7" cy="162.8" r="4"/><circle cx="371.8" cy="48.1" r="5.4"/></g><g fill="url(#by)"><circle cx="392.5" cy="139" r="4.8"/></g><g fill="url(#bb)"><circle cx="367" cy="87.4" r="5.5"/><circle cx="422.6" cy="157.5" r="4"/></g><g fill="url(#by)"><circle cx="480.7" cy="156.6" r="4"/><circle cx="387.2" cy="132.7" r="4.9"/></g><g fill="url(#bb)"><circle cx="367" cy="79.5" r="5.5"/><circle cx="441.8" cy="161.2" r="4"/><circle cx="415.4" cy="153.7" r="4.1"/><circle cx="382.5" cy="126" r="5.1"/></g><g fill="url(#by)"><circle cx="461.5" cy="160.9" r="4"/><circle cx="367.7" cy="71.7" r="5.5"/></g><g fill="url(#bb)"><circle cx="491.6" cy="150.9" r="4"/></g><g fill="url(#by)"><circle cx="525.2" cy="115.8" r="5.1"/></g><g fill="url(#bb)"><circle cx="378.6" cy="118.9" r="5.2"/><circle cx="501.6" cy="143.8" r="4.3"/></g><g fill="url(#by)"><circle cx="518.6" cy="126.1" r="4.9"/></g><g fill="url(#bb)"><circle cx="408.6" cy="149.2" r="4.3"/><circle cx="510.7" cy="135.5" r="4.6"/></g><g fill="url(#by)"><circle cx="369.3" cy="64.2" r="5.5"/></g><g fill="url(#bb)"><circle cx="375.3" cy="111.4" r="5.3"/></g><g fill="url(#by)"><circle cx="434.1" cy="158.9" r="4"/><circle cx="473.1" cy="157.5" r="4"/></g><g fill="url(#bb)"><circle cx="372.9" cy="103.8" r="5.4"/><circle cx="453.7" cy="160.2" r="4"/><circle cx="402.2" cy="144.1" r="4.5"/><circle cx="371.6" cy="57" r="5.4"/><circle cx="371.2" cy="96" r="5.4"/></g><g fill="url(#by)"><circle cx="484.3" cy="152.5" r="4"/><circle cx="426.6" cy="155.9" r="4"/><circle cx="396.3" cy="138.5" r="4.7"/></g><g fill="url(#bb)"><circle cx="370.4" cy="88.2" r="5.4"/></g><g fill="url(#by)"><circle cx="526" cy="109.4" r="5.1"/></g><g fill="url(#bb)"><circle cx="374.6" cy="50.2" r="5.3"/><circle cx="494.8" cy="146.2" r="4.1"/></g><g fill="url(#by)"><circle cx="391" cy="132.3" r="4.8"/></g><g fill="url(#bb)"><circle cx="445.9" cy="158.7" r="4"/><circle cx="465.4" cy="157.6" r="4"/></g><g fill="url(#by)"><circle cx="520.1" cy="120" r="4.9"/></g><g fill="url(#bb)"><circle cx="504.4" cy="138.5" r="4.4"/><circle cx="370.4" cy="80.5" r="5.4"/><circle cx="512.9" cy="129.8" r="4.7"/><circle cx="419.4" cy="152.2" r="4"/><circle cx="386.3" cy="125.7" r="5"/><circle cx="526.9" cy="51.7" r="5.2"/><circle cx="371.2" cy="72.9" r="5.4"/><circle cx="382.3" cy="118.7" r="5.1"/></g><g fill="url(#by)"><circle cx="476.8" cy="153.5" r="4"/></g><g fill="url(#bb)"><circle cx="412.6" cy="147.8" r="4.2"/></g><g fill="url(#by)"><circle cx="438.2" cy="156.6" r="4"/></g><g fill="url(#bb)"><circle cx="457.7" cy="157" r="4"/><circle cx="379.1" cy="111.4" r="5.2"/></g><g fill="url(#by)"><circle cx="372.8" cy="65.5" r="5.4"/><circle cx="526.1" cy="102.9" r="5.1"/><circle cx="487.6" cy="147.9" r="4"/><circle cx="406.2" cy="142.9" r="4.4"/></g><g fill="url(#bb)"><circle cx="376.7" cy="103.9" r="5.3"/></g><g fill="url(#by)"><circle cx="521" cy="113.6" r="5"/></g><g fill="url(#bb)"><circle cx="497.6" cy="141" r="4.2"/></g><g fill="url(#by)"><circle cx="430.8" cy="153.7" r="4"/><circle cx="514.5" cy="123.7" r="4.7"/></g><g fill="url(#bb)"><circle cx="375.3" cy="58.5" r="5.3"/><circle cx="506.6" cy="132.9" r="4.5"/><circle cx="375.1" cy="96.2" r="5.3"/></g><g fill="url(#by)"><circle cx="400.3" cy="137.3" r="4.5"/></g><g fill="url(#bb)"><circle cx="469.2" cy="153.7" r="4"/><circle cx="449.9" cy="155.7" r="4"/><circle cx="374.4" cy="88.5" r="5.3"/></g><g fill="url(#by)"><circle cx="395" cy="131.3" r="4.7"/></g><g fill="url(#bb)"><circle cx="423.6" cy="150.1" r="4"/><circle cx="525.1" cy="56.8" r="5.1"/><circle cx="378.5" cy="52" r="5.2"/><circle cx="480.2" cy="148.9" r="4"/><circle cx="525.5" cy="96.2" r="5.1"/><circle cx="374.5" cy="80.9" r="5.3"/><circle cx="390.4" cy="124.8" r="4.8"/><circle cx="442.3" cy="153.6" r="4"/><circle cx="526.3" cy="67.6" r="5.1"/></g><g fill="url(#by)"><circle cx="416.8" cy="145.8" r="4"/><circle cx="521.2" cy="107" r="5"/></g><g fill="url(#bb)"><circle cx="461.5" cy="153.2" r="4"/></g><g fill="url(#by)"><circle cx="490.6" cy="142.8" r="4"/></g><g fill="url(#bb)"><circle cx="386.5" cy="117.9" r="5"/><circle cx="375.5" cy="73.5" r="5.3"/></g><g fill="url(#by)"><circle cx="515.5" cy="117.3" r="4.8"/><circle cx="500" cy="135.3" r="4.3"/><circle cx="508.4" cy="126.8" r="4.5"/></g><g fill="url(#bb)"><circle cx="383.4" cy="110.7" r="5.1"/><circle cx="526" cy="78.5" r="5.1"/></g><g fill="url(#by)"><circle cx="410.4" cy="141" r="4.2"/><circle cx="377.3" cy="66.3" r="5.2"/><circle cx="434.9" cy="150.8" r="4"/></g><g fill="url(#bb)"><circle cx="472.7" cy="149.2" r="4"/><circle cx="381.1" cy="103.3" r="5.1"/><circle cx="520.4" cy="51.4" r="4.9"/><circle cx="524.1" cy="89.5" r="5.1"/><circle cx="453.8" cy="151.9" r="4"/></g><g fill="url(#by)"><circle cx="404.6" cy="135.5" r="4.4"/></g><g fill="url(#bb)"><circle cx="379.6" cy="95.8" r="5.2"/><circle cx="483.3" cy="143.9" r="4"/><circle cx="380" cy="59.5" r="5.2"/><circle cx="522.4" cy="61.6" r="5"/></g><g fill="url(#by)"><circle cx="520.7" cy="100.3" r="5"/></g><g fill="url(#bb)"><circle cx="427.8" cy="147.3" r="4"/></g><g fill="url(#by)"><circle cx="399.4" cy="129.6" r="4.6"/></g><g fill="url(#bb)"><circle cx="379" cy="88.2" r="5.2"/></g><g fill="url(#by)"><circle cx="493.1" cy="137.2" r="4"/><circle cx="515.8" cy="110.7" r="4.8"/><circle cx="509.5" cy="120.4" r="4.6"/><circle cx="501.8" cy="129.3" r="4.3"/></g><g fill="url(#bb)"><circle cx="522.9" cy="72.2" r="5"/><circle cx="465.1" cy="148.8" r="4"/><circle cx="446.3" cy="150" r="4"/><circle cx="394.9" cy="123.2" r="4.7"/><circle cx="383.7" cy="53.3" r="5"/></g><g fill="url(#by)"><circle cx="421" cy="143.2" r="4"/></g><g fill="url(#bb)"><circle cx="379.4" cy="80.7" r="5.2"/><circle cx="391.1" cy="116.4" r="4.8"/><circle cx="522" cy="82.9" r="5"/><circle cx="475.8" cy="144.2" r="4"/></g><g fill="url(#by)"><circle cx="380.6" cy="73.5" r="5.1"/><circle cx="414.8" cy="138.4" r="4.1"/></g><g fill="url(#bb)"><circle cx="438.9" cy="147.3" r="4"/><circle cx="388.1" cy="109.3" r="4.9"/><circle cx="517.7" cy="56" r="4.9"/><circle cx="519.4" cy="93.5" r="4.9"/><circle cx="457.5" cy="147.6" r="4"/><circle cx="388.1" cy="47.7" r="4.9"/><circle cx="485.9" cy="138.3" r="4"/><circle cx="515.4" cy="103.9" r="4.8"/></g><g fill="url(#by)"><circle cx="386" cy="102" r="5"/><circle cx="409" cy="133" r="4.3"/><circle cx="382.9" cy="66.5" r="5.1"/><circle cx="519" cy="66" r="4.9"/><circle cx="495" cy="131.1" r="4.1"/><circle cx="509.9" cy="113.7" r="4.6"/><circle cx="503.1" cy="122.9" r="4.4"/></g><g fill="url(#bb)"><circle cx="431.9" cy="143.9" r="4"/></g><g fill="url(#by)"><circle cx="384.7" cy="94.5" r="5"/></g><g fill="url(#bb)"><circle cx="468.3" cy="143.8" r="4"/></g><g fill="url(#by)"><circle cx="404" cy="127.1" r="4.4"/><circle cx="518.9" cy="76.3" r="4.9"/></g><g fill="url(#bb)"><circle cx="450" cy="145.7" r="4"/><circle cx="386.1" cy="60" r="5"/></g><g fill="url(#by)"><circle cx="384.4" cy="87.1" r="5"/></g><g fill="url(#bb)"><circle cx="425.3" cy="139.8" r="4"/><circle cx="399.6" cy="120.8" r="4.6"/><circle cx="517.3" cy="86.7" r="4.8"/><circle cx="511.9" cy="51" r="4.7"/><circle cx="478.6" cy="138.6" r="4"/><circle cx="514.2" cy="96.9" r="4.7"/></g><g fill="url(#by)"><circle cx="385.1" cy="79.7" r="5"/></g><g fill="url(#bb)"><circle cx="396" cy="114.1" r="4.7"/></g><g fill="url(#by)"><circle cx="488" cy="132.2" r="4"/></g><g fill="url(#bb)"><circle cx="442.8" cy="143" r="4"/></g><g fill="url(#by)"><circle cx="514.1" cy="60.2" r="4.7"/></g><g fill="url(#bb)"><circle cx="460.9" cy="142.7" r="4"/></g><g fill="url(#by)"><circle cx="419.1" cy="135" r="4"/></g><g fill="url(#bb)"><circle cx="509.6" cy="106.8" r="4.6"/><circle cx="390.3" cy="54" r="4.8"/></g><g fill="url(#by)"><circle cx="496.4" cy="124.6" r="4.1"/><circle cx="503.7" cy="116.1" r="4.4"/><circle cx="393.2" cy="107" r="4.8"/><circle cx="514.9" cy="70" r="4.8"/><circle cx="386.9" cy="72.6" r="4.9"/><circle cx="413.6" cy="129.7" r="4.1"/></g><g fill="url(#bb)"><circle cx="471.2" cy="138.3" r="4"/><circle cx="435.9" cy="139.7" r="4"/></g><g fill="url(#by)"><circle cx="391.4" cy="99.8" r="4.8"/><circle cx="514.2" cy="79.9" r="4.7"/></g><g fill="url(#bb)"><circle cx="453.6" cy="140.8" r="4"/><circle cx="395.6" cy="48.8" r="4.7"/></g><g fill="url(#by)"><circle cx="389.7" cy="65.8" r="4.9"/><circle cx="408.7" cy="123.9" r="4.3"/></g><g fill="url(#bb)"><circle cx="480.8" cy="132.5" r="4"/></g><g fill="url(#by)"><circle cx="508" cy="54.9" r="4.5"/></g><g fill="url(#bb)"><circle cx="429.5" cy="135.6" r="4"/></g><g fill="url(#by)"><circle cx="489.5" cy="125.7" r="4"/></g><g fill="url(#bb)"><circle cx="404.5" cy="117.6" r="4.4"/></g><g fill="url(#by)"><circle cx="497.1" cy="117.8" r="4.2"/></g><g fill="url(#bb)"><circle cx="463.9" cy="137.1" r="4"/></g><g fill="url(#by)"><circle cx="509.7" cy="63.9" r="4.6"/></g><g fill="url(#bb)"><circle cx="446.5" cy="138.1" r="4"/><circle cx="393.7" cy="59.5" r="4.7"/></g><g fill="url(#by)"><circle cx="423.5" cy="130.9" r="4"/></g><g fill="url(#bb)"><circle cx="473.6" cy="132.1" r="4"/><circle cx="439.8" cy="134.7" r="4"/></g><g fill="url(#by)"><circle cx="418.1" cy="125.6" r="4"/></g><g fill="url(#bb)"><circle cx="456.7" cy="135.2" r="4"/><circle cx="399.1" cy="53.9" r="4.6"/></g><g fill="url(#by)"><circle cx="500.6" cy="50.2" r="4.3"/><circle cx="503.3" cy="58.3" r="4.4"/></g><g fill="url(#bb)"><circle cx="433.5" cy="130.6" r="4"/><circle cx="466.4" cy="130.9" r="4"/><circle cx="449.8" cy="132.4" r="4"/></g><g fill="url(#by)"><circle cx="406.1" cy="49.2" r="4.4"/></g><g fill="url(#bb)"><circle cx="403.8" cy="57.8" r="4.4"/></g><g fill="url(#by)"><circle cx="495.1" cy="53.2" r="4.1"/><circle cx="411.6" cy="52.4" r="4.2"/></g>
<ellipse cx="451.5" cy="87.0" rx="63.0" ry="46.0" fill="#0e4f7c"/><g fill="url(#byd)"><circle cx="486.8" cy="91.1" r="2.8"/><circle cx="484.7" cy="95.9" r="2.8"/></g><g fill="url(#bbd)"><circle cx="481.2" cy="99.9" r="2.8"/><circle cx="477" cy="102.8" r="2.8"/><circle cx="472.4" cy="104.7" r="2.8"/></g><g fill="url(#byd)"><circle cx="468.1" cy="105.8" r="2.8"/><circle cx="464.2" cy="106.2" r="2.8"/><circle cx="460.8" cy="106.3" r="2.8"/></g><g fill="url(#bbd)"><circle cx="457.8" cy="106.1" r="2.8"/><circle cx="455.1" cy="105.9" r="2.8"/></g><g fill="url(#byd)"><circle cx="452.8" cy="105.7" r="2.8"/></g><g fill="url(#bbd)"><circle cx="450.5" cy="105.7" r="2.8"/><circle cx="448.3" cy="105.7" r="2.8"/></g><g fill="url(#byd)"><circle cx="445.8" cy="105.8" r="2.8"/><circle cx="443.1" cy="106" r="2.8"/></g><g fill="url(#bbd)"><circle cx="440" cy="106" r="2.8"/><circle cx="436.5" cy="105.7" r="2.8"/><circle cx="432.5" cy="105.1" r="2.8"/></g><g fill="url(#byd)"><circle cx="428.2" cy="103.7" r="2.8"/><circle cx="423.9" cy="101.4" r="2.8"/></g><g fill="url(#bbd)"><circle cx="420" cy="98.1" r="2.8"/><circle cx="417.2" cy="93.8" r="2.8"/></g><g fill="url(#byd)"><circle cx="415.8" cy="88.9" r="2.8"/><circle cx="416.3" cy="83.9" r="2.8"/></g><g fill="url(#bbd)"><circle cx="418.5" cy="79.4" r="2.8"/><circle cx="421.9" cy="75.6" r="2.8"/><circle cx="425.9" cy="72.8" r="2.8"/></g><g fill="url(#byd)"><circle cx="430.3" cy="70.9" r="2.8"/><circle cx="434.4" cy="69.7" r="2.8"/><circle cx="438.4" cy="69" r="2.8"/></g><g fill="url(#bbd)"><circle cx="442" cy="68.6" r="2.8"/><circle cx="445.4" cy="68.4" r="2.8"/></g><g fill="url(#byd)"><circle cx="448.5" cy="68.3" r="2.8"/></g><g fill="url(#bbd)"><circle cx="451.7" cy="68.3" r="2.8"/><circle cx="454.8" cy="68.3" r="2.8"/></g><g fill="url(#byd)"><circle cx="458.1" cy="68.3" r="2.8"/><circle cx="461.6" cy="68.5" r="2.8"/></g><g fill="url(#bbd)"><circle cx="465.5" cy="68.9" r="2.8"/><circle cx="469.6" cy="69.8" r="2.8"/><circle cx="474" cy="71.2" r="2.8"/></g><g fill="url(#byd)"><circle cx="478.4" cy="73.5" r="2.8"/><circle cx="482.4" cy="76.8" r="2.8"/></g><g fill="url(#bbd)"><circle cx="485.5" cy="81" r="2.8"/><circle cx="487.1" cy="85.9" r="2.8"/></g><g fill="url(#byd)"><circle cx="493" cy="91.3" r="3.1"/><circle cx="490.8" cy="96.9" r="3.1"/></g><g fill="url(#bbd)"><circle cx="487.1" cy="101.8" r="3.1"/><circle cx="482.6" cy="105.6" r="3.1"/><circle cx="477.6" cy="108.2" r="3.1"/></g><g fill="url(#byd)"><circle cx="472.7" cy="110" r="3.1"/><circle cx="468.1" cy="111" r="3.1"/><circle cx="464" cy="111.6" r="3.1"/></g><g fill="url(#bbd)"><circle cx="460.2" cy="111.8" r="3.1"/><circle cx="456.7" cy="111.9" r="3.1"/></g><g fill="url(#byd)"><circle cx="453.5" cy="111.9" r="3.1"/></g><g fill="url(#bbd)"><circle cx="450.3" cy="111.9" r="3.1"/><circle cx="447.2" cy="111.8" r="3.1"/></g><g fill="url(#byd)"><circle cx="443.9" cy="111.7" r="3.1"/><circle cx="440.4" cy="111.5" r="3.1"/></g><g fill="url(#bbd)"><circle cx="436.5" cy="111.1" r="3.1"/><circle cx="432.3" cy="110.3" r="3.1"/><circle cx="427.7" cy="109" r="3.1"/></g><g fill="url(#byd)"><circle cx="422.9" cy="106.9" r="3.1"/><circle cx="418.2" cy="103.8" r="3.1"/></g><g fill="url(#bbd)"><circle cx="414" cy="99.7" r="3.1"/><circle cx="411.1" cy="94.5" r="3.1"/></g><g fill="url(#byd)"><circle cx="409.6" cy="88.8" r="3.1"/><circle cx="410.2" cy="82.9" r="3.1"/></g><g fill="url(#bbd)"><circle cx="412.6" cy="77.5" r="3.1"/><circle cx="416.3" cy="72.9" r="3.1"/><circle cx="420.8" cy="69.3" r="3.1"/></g><g fill="url(#byd)"><circle cx="425.7" cy="66.7" r="3.1"/><circle cx="430.5" cy="64.9" r="3.1"/><circle cx="435.2" cy="63.7" r="3.1"/></g><g fill="url(#bbd)"><circle cx="439.6" cy="62.9" r="3.1"/><circle cx="443.8" cy="62.4" r="3.1"/></g><g fill="url(#byd)"><circle cx="447.8" cy="62.2" r="3.1"/></g><g fill="url(#bbd)"><circle cx="451.8" cy="62.1" r="3.1"/><circle cx="455.8" cy="62.2" r="3.1"/></g><g fill="url(#byd)"><circle cx="460" cy="62.4" r="3.1"/><circle cx="464.4" cy="62.9" r="3.1"/></g><g fill="url(#bbd)"><circle cx="469" cy="63.8" r="3.1"/><circle cx="473.8" cy="65.2" r="3.1"/><circle cx="478.8" cy="67.3" r="3.1"/></g><g fill="url(#byd)"><circle cx="483.7" cy="70.3" r="3.1"/><circle cx="488.1" cy="74.4" r="3.1"/></g><g fill="url(#bbd)"><circle cx="491.5" cy="79.4" r="3.1"/><circle cx="493.2" cy="85.2" r="3.1"/></g><g fill="url(#byd)"><circle cx="499.2" cy="91.4" r="3.4"/><circle cx="496.9" cy="98" r="3.4"/></g><g fill="url(#bbd)"><circle cx="493" cy="103.7" r="3.4"/><circle cx="488.1" cy="108.3" r="3.4"/><circle cx="482.7" cy="111.7" r="3.4"/></g><g fill="url(#byd)"><circle cx="477.3" cy="114.2" r="3.4"/><circle cx="472" cy="115.8" r="3.4"/><circle cx="467.2" cy="116.9" r="3.4"/></g><g fill="url(#bbd)"><circle cx="462.6" cy="117.6" r="3.4"/><circle cx="458.3" cy="117.9" r="3.4"/></g><g fill="url(#byd)"><circle cx="454.2" cy="118" r="3.4"/></g><g fill="url(#bbd)"><circle cx="450.2" cy="118.1" r="3.4"/><circle cx="446.1" cy="117.9" r="3.4"/></g><g fill="url(#byd)"><circle cx="442" cy="117.6" r="3.4"/><circle cx="437.6" cy="117.1" r="3.4"/></g><g fill="url(#bbd)"><circle cx="433" cy="116.2" r="3.4"/><circle cx="428.1" cy="114.9" r="3.4"/><circle cx="422.9" cy="112.9" r="3.4"/></g><g fill="url(#byd)"><circle cx="417.6" cy="110.1" r="3.4"/><circle cx="412.5" cy="106.2" r="3.4"/></g><g fill="url(#bbd)"><circle cx="408" cy="101.2" r="3.4"/><circle cx="404.9" cy="95.2" r="3.4"/></g><g fill="url(#byd)"><circle cx="403.4" cy="88.6" r="3.4"/><circle cx="404.1" cy="81.8" r="3.4"/></g><g fill="url(#bbd)"><circle cx="406.7" cy="75.5" r="3.4"/><circle cx="410.7" cy="70.1" r="3.4"/><circle cx="415.7" cy="65.8" r="3.4"/></g><g fill="url(#byd)"><circle cx="421.1" cy="62.5" r="3.4"/><circle cx="426.6" cy="60.1" r="3.4"/><circle cx="432" cy="58.4" r="3.4"/></g><g fill="url(#bbd)"><circle cx="437.2" cy="57.2" r="3.4"/><circle cx="442.2" cy="56.4" r="3.4"/></g><g fill="url(#byd)"><circle cx="447.2" cy="56" r="3.4"/></g><g fill="url(#bbd)"><circle cx="452" cy="55.9" r="3.4"/><circle cx="456.9" cy="56.1" r="3.4"/></g><g fill="url(#byd)"><circle cx="461.9" cy="56.5" r="3.4"/><circle cx="467.1" cy="57.4" r="3.4"/></g><g fill="url(#bbd)"><circle cx="472.5" cy="58.7" r="3.4"/><circle cx="478" cy="60.6" r="3.4"/><circle cx="483.6" cy="63.4" r="3.4"/></g><g fill="url(#byd)"><circle cx="489.1" cy="67.1" r="3.4"/><circle cx="493.9" cy="72" r="3.4"/></g><g fill="url(#bbd)"><circle cx="497.5" cy="77.8" r="3.4"/><circle cx="499.4" cy="84.5" r="3.4"/></g><g fill="url(#by)"><circle cx="505.4" cy="91.6" r="3.7"/><circle cx="503" cy="99.1" r="3.7"/></g><g fill="url(#bb)"><circle cx="498.9" cy="105.6" r="3.7"/><circle cx="493.7" cy="111.1" r="3.7"/><circle cx="487.8" cy="115.2" r="3.7"/></g><g fill="url(#by)"><circle cx="481.8" cy="118.4" r="3.7"/><circle cx="476" cy="120.6" r="3.7"/><circle cx="470.4" cy="122.2" r="3.7"/></g><g fill="url(#bb)"><circle cx="465" cy="123.3" r="3.7"/><circle cx="459.8" cy="123.9" r="3.7"/></g><g fill="url(#by)"><circle cx="454.9" cy="124.2" r="3.7"/></g><g fill="url(#bb)"><circle cx="450" cy="124.3" r="3.7"/><circle cx="445.1" cy="124" r="3.7"/></g><g fill="url(#by)"><circle cx="440.1" cy="123.5" r="3.7"/><circle cx="434.9" cy="122.6" r="3.7"/></g><g fill="url(#bb)"><circle cx="429.5" cy="121.3" r="3.7"/><circle cx="423.9" cy="119.4" r="3.7"/><circle cx="418.1" cy="116.9" r="3.7"/></g><g fill="url(#by)"><circle cx="412.3" cy="113.3" r="3.7"/><circle cx="406.8" cy="108.6" r="3.7"/></g><g fill="url(#bb)"><circle cx="402" cy="102.8" r="3.7"/><circle cx="398.7" cy="95.9" r="3.7"/></g><g fill="url(#by)"><circle cx="397.2" cy="88.4" r="3.7"/><circle cx="398" cy="80.7" r="3.7"/></g><g fill="url(#bb)"><circle cx="400.8" cy="73.6" r="3.7"/><circle cx="405.2" cy="67.4" r="3.7"/><circle cx="410.6" cy="62.3" r="3.7"/></g><g fill="url(#by)"><circle cx="416.6" cy="58.3" r="3.7"/><circle cx="422.7" cy="55.3" r="3.7"/><circle cx="428.8" cy="53.1" r="3.7"/></g><g fill="url(#bb)"><circle cx="434.8" cy="51.5" r="3.7"/><circle cx="440.7" cy="50.4" r="3.7"/></g><g fill="url(#by)"><circle cx="446.5" cy="49.9" r="3.7"/></g><g fill="url(#bb)"><circle cx="452.2" cy="49.7" r="3.7"/><circle cx="458" cy="50" r="3.7"/></g><g fill="url(#by)"><circle cx="463.8" cy="50.6" r="3.7"/><circle cx="469.9" cy="51.8" r="3.7"/></g><g fill="url(#bb)"><circle cx="476" cy="53.6" r="3.7"/><circle cx="482.2" cy="56.1" r="3.7"/><circle cx="488.4" cy="59.5" r="3.7"/></g><g fill="url(#by)"><circle cx="494.4" cy="63.9" r="3.7"/><circle cx="499.6" cy="69.6" r="3.7"/></g><g fill="url(#bb)"><circle cx="503.5" cy="76.3" r="3.7"/><circle cx="505.6" cy="83.8" r="3.7"/></g><g fill="url(#by)"><circle cx="511.6" cy="91.8" r="4"/><circle cx="509.1" cy="100.1" r="4"/></g><g fill="url(#bb)"><circle cx="504.8" cy="107.6" r="4"/><circle cx="499.2" cy="113.8" r="4"/><circle cx="492.9" cy="118.7" r="4"/></g><g fill="url(#by)"><circle cx="486.4" cy="122.6" r="4"/><circle cx="479.9" cy="125.4" r="4"/><circle cx="473.6" cy="127.5" r="4"/></g><g fill="url(#bb)"><circle cx="467.4" cy="129" r="4"/><circle cx="461.4" cy="129.9" r="4"/></g><g fill="url(#by)"><circle cx="455.6" cy="130.3" r="4"/></g><g fill="url(#bb)"><circle cx="449.8" cy="130.5" r="4"/><circle cx="444" cy="130.1" r="4"/></g><g fill="url(#by)"><circle cx="438.2" cy="129.4" r="4"/><circle cx="432.1" cy="128.2" r="4"/></g><g fill="url(#bb)"><circle cx="426" cy="126.4" r="4"/><circle cx="419.7" cy="124" r="4"/><circle cx="413.3" cy="120.8" r="4"/></g><g fill="url(#by)"><circle cx="406.9" cy="116.5" r="4"/><circle cx="401" cy="111" r="4"/></g><g fill="url(#bb)"><circle cx="396" cy="104.4" r="4"/><circle cx="392.6" cy="96.6" r="4"/></g><g fill="url(#by)"><circle cx="391" cy="88.2" r="4"/><circle cx="391.9" cy="79.7" r="4"/></g><g fill="url(#bb)"><circle cx="394.9" cy="71.7" r="4"/><circle cx="399.6" cy="64.6" r="4"/><circle cx="405.5" cy="58.8" r="4"/></g><g fill="url(#by)"><circle cx="412" cy="54.1" r="4"/><circle cx="418.8" cy="50.5" r="4"/><circle cx="425.6" cy="47.7" r="4"/></g><g fill="url(#bb)"><circle cx="479.5" cy="48.4" r="4"/><circle cx="486.4" cy="51.5" r="4"/><circle cx="493.2" cy="55.6" r="4"/></g><g fill="url(#by)"><circle cx="499.7" cy="60.7" r="4"/><circle cx="505.3" cy="67.2" r="4"/></g><g fill="url(#bb)"><circle cx="509.5" cy="74.7" r="4"/><circle cx="511.7" cy="83.1" r="4"/></g>
<circle cx="451.5" cy="71.0" r="42.5" fill="#0f5585"/><g fill="url(#bb)"><circle cx="436.7" cy="110.8" r="3.8"/><circle cx="409.2" cy="72.9" r="3.8"/></g><g fill="url(#by)"><circle cx="411" cy="58.6" r="3.8"/></g><g fill="url(#bb)"><circle cx="449.9" cy="113.3" r="3.8"/></g><g fill="url(#by)"><circle cx="469" cy="109.6" r="3.8"/><circle cx="416.5" cy="94.8" r="3.8"/></g><g fill="url(#bb)"><circle cx="429.1" cy="107" r="3.8"/><circle cx="422.2" cy="101.6" r="3.8"/><circle cx="474.5" cy="106.5" r="3.8"/></g><g fill="url(#by)"><circle cx="479.5" cy="102.5" r="3.8"/><circle cx="410.8" cy="81.8" r="3.8"/><circle cx="484" cy="97.8" r="3.8"/><circle cx="493.5" cy="74.1" r="3.8"/><circle cx="492.5" cy="80.5" r="3.8"/><circle cx="413.2" cy="53.4" r="3.8"/></g><g fill="url(#bb)"><circle cx="487.7" cy="92.5" r="3.8"/></g><g fill="url(#by)"><circle cx="490.6" cy="86.6" r="3.8"/><circle cx="455.6" cy="112.9" r="3.8"/><circle cx="409.6" cy="67.4" r="3.8"/></g><g fill="url(#bb)"><circle cx="493.5" cy="67.7" r="3.8"/><circle cx="441.7" cy="111.9" r="3.8"/><circle cx="492.4" cy="61.4" r="3.8"/></g><g fill="url(#by)"><circle cx="490.5" cy="55.5" r="3.8"/><circle cx="414.3" cy="90.2" r="3.8"/></g><g fill="url(#bb)"><circle cx="433.7" cy="108.8" r="3.8"/></g><g fill="url(#by)"><circle cx="461.5" cy="111.6" r="3.8"/><circle cx="487.6" cy="50.2" r="3.8"/></g><g fill="url(#bb)"><circle cx="419.5" cy="97.7" r="3.8"/></g><g fill="url(#by)"><circle cx="410.2" cy="76.4" r="3.8"/></g><g fill="url(#bb)"><circle cx="426.1" cy="104" r="3.8"/></g><g fill="url(#by)"><circle cx="410.9" cy="61.9" r="3.8"/></g><g fill="url(#bb)"><circle cx="416.4" cy="48.7" r="3.8"/><circle cx="447.3" cy="112.3" r="3.8"/><circle cx="467.3" cy="109.3" r="3.8"/><circle cx="472.9" cy="106.2" r="3.8"/><circle cx="412.8" cy="85.1" r="3.8"/></g><g fill="url(#by)"><circle cx="410.5" cy="70.8" r="3.8"/></g><g fill="url(#bb)"><circle cx="478" cy="102.3" r="3.8"/><circle cx="438.8" cy="110" r="3.8"/></g><g fill="url(#by)"><circle cx="413.1" cy="56.7" r="3.8"/></g><g fill="url(#bb)"><circle cx="453.1" cy="111.9" r="3.8"/><circle cx="482.5" cy="97.6" r="3.8"/><circle cx="486.3" cy="92.3" r="3.8"/></g><g fill="url(#by)"><circle cx="491.2" cy="80.4" r="3.8"/><circle cx="489.2" cy="86.6" r="3.8"/><circle cx="492.2" cy="74.1" r="3.8"/></g><g fill="url(#bb)"><circle cx="417.3" cy="93.2" r="3.8"/><circle cx="492.1" cy="67.9" r="3.8"/></g><g fill="url(#by)"><circle cx="430.7" cy="105.9" r="3.8"/></g><g fill="url(#bb)"><circle cx="491" cy="61.8" r="3.8"/><circle cx="423.4" cy="100.2" r="3.8"/></g><g fill="url(#by)"><circle cx="488.9" cy="56.1" r="3.8"/><circle cx="459.1" cy="110.5" r="3.8"/></g><g fill="url(#bb)"><circle cx="412.2" cy="79.7" r="3.8"/></g><g fill="url(#by)"><circle cx="411.8" cy="65.3" r="3.8"/></g><g fill="url(#bb)"><circle cx="416.2" cy="51.9" r="3.8"/><circle cx="444.5" cy="110.4" r="3.8"/></g><g fill="url(#by)"><circle cx="486" cy="51" r="3.8"/></g><g fill="url(#bb)"><circle cx="465" cy="108.3" r="3.8"/><circle cx="415.8" cy="88.2" r="3.8"/></g><g fill="url(#by)"><circle cx="436" cy="107.1" r="3.8"/></g><g fill="url(#bb)"><circle cx="470.6" cy="105.3" r="3.8"/><circle cx="412.5" cy="74.2" r="3.8"/><circle cx="421.2" cy="95.8" r="3.8"/></g><g fill="url(#by)"><circle cx="414" cy="60" r="3.8"/><circle cx="428.1" cy="102.2" r="3.8"/><circle cx="450.4" cy="110" r="3.8"/></g><g fill="url(#bb)"><circle cx="475.8" cy="101.4" r="3.8"/><circle cx="480.4" cy="96.8" r="3.8"/><circle cx="484.2" cy="91.6" r="3.8"/><circle cx="487.1" cy="85.9" r="3.8"/><circle cx="489" cy="79.9" r="3.8"/><circle cx="489.9" cy="73.7" r="3.8"/><circle cx="489.7" cy="67.6" r="3.8"/><circle cx="415.1" cy="82.8" r="3.8"/><circle cx="488.4" cy="61.7" r="3.8"/></g><g fill="url(#by)"><circle cx="456.4" cy="108.7" r="3.8"/><circle cx="413.6" cy="68.6" r="3.8"/><circle cx="441.6" cy="107.6" r="3.8"/></g><g fill="url(#bb)"><circle cx="417.2" cy="55.1" r="3.8"/></g><g fill="url(#by)"><circle cx="486" cy="56.3" r="3.8"/></g><g fill="url(#bb)"><circle cx="419.7" cy="90.8" r="3.8"/></g><g fill="url(#by)"><circle cx="433.3" cy="103.5" r="3.8"/></g><g fill="url(#bb)"><circle cx="462.4" cy="106.6" r="3.8"/></g><g fill="url(#by)"><circle cx="425.8" cy="97.8" r="3.8"/></g><g fill="url(#bb)"><circle cx="415.3" cy="77.2" r="3.8"/></g><g fill="url(#by)"><circle cx="482.5" cy="51.6" r="3.8"/></g><g fill="url(#bb)"><circle cx="468" cy="103.6" r="3.8"/></g><g fill="url(#by)"><circle cx="415.9" cy="63.1" r="3.8"/><circle cx="447.6" cy="107.3" r="3.8"/></g><g fill="url(#bb)"><circle cx="421.5" cy="50.7" r="3.8"/><circle cx="473.2" cy="99.8" r="3.8"/><circle cx="477.7" cy="95.3" r="3.8"/><circle cx="418.9" cy="85.4" r="3.8"/><circle cx="481.5" cy="90.1" r="3.8"/><circle cx="484.3" cy="84.5" r="3.8"/><circle cx="486" cy="78.6" r="3.8"/></g><g fill="url(#by)"><circle cx="439" cy="104.1" r="3.8"/></g><g fill="url(#bb)"><circle cx="486.7" cy="72.6" r="3.8"/></g><g fill="url(#by)"><circle cx="453.6" cy="106.1" r="3.8"/></g><g fill="url(#bb)"><circle cx="416.4" cy="71.5" r="3.8"/><circle cx="424.2" cy="92.9" r="3.8"/><circle cx="486.1" cy="66.6" r="3.8"/></g><g fill="url(#by)"><circle cx="431.1" cy="99.2" r="3.8"/></g><g fill="url(#bb)"><circle cx="419.2" cy="58" r="3.8"/><circle cx="484.3" cy="60.9" r="3.8"/><circle cx="459.6" cy="104" r="3.8"/><circle cx="419" cy="79.7" r="3.8"/></g><g fill="url(#by)"><circle cx="444.9" cy="103.8" r="3.8"/><circle cx="481.1" cy="55.8" r="3.8"/></g><g fill="url(#bb)"><circle cx="418.7" cy="65.9" r="3.8"/><circle cx="465.2" cy="101.1" r="3.8"/><circle cx="423.9" cy="53.4" r="3.8"/><circle cx="423.3" cy="87.5" r="3.8"/></g><g fill="url(#by)"><circle cx="436.7" cy="99.8" r="3.8"/></g><g fill="url(#bb)"><circle cx="470.3" cy="97.4" r="3.8"/></g><g fill="url(#by)"><circle cx="429.3" cy="94.3" r="3.8"/><circle cx="474.7" cy="92.9" r="3.8"/><circle cx="450.9" cy="102.7" r="3.8"/><circle cx="478.2" cy="87.8" r="3.8"/><circle cx="420.1" cy="73.9" r="3.8"/></g><g fill="url(#bb)"><circle cx="476.4" cy="51.7" r="3.8"/><circle cx="480.8" cy="82.3" r="3.8"/><circle cx="482.2" cy="76.4" r="3.8"/><circle cx="422.2" cy="60.5" r="3.8"/><circle cx="482.4" cy="70.4" r="3.8"/><circle cx="481.1" cy="64.5" r="3.8"/></g><g fill="url(#by)"><circle cx="423.3" cy="81.7" r="3.8"/></g><g fill="url(#bb)"><circle cx="456.7" cy="100.6" r="3.8"/></g><g fill="url(#by)"><circle cx="430.2" cy="49.8" r="3.8"/><circle cx="442.5" cy="99.6" r="3.8"/><circle cx="422.4" cy="68" r="3.8"/><circle cx="478.1" cy="58.9" r="3.8"/><circle cx="428.4" cy="88.8" r="3.8"/></g><g fill="url(#bb)"><circle cx="434.9" cy="94.8" r="3.8"/><circle cx="462.2" cy="97.7" r="3.8"/><circle cx="427.4" cy="55.7" r="3.8"/><circle cx="469.2" cy="49.2" r="3.8"/></g><g fill="url(#by)"><circle cx="467.2" cy="94" r="3.8"/><circle cx="448.4" cy="98.4" r="3.8"/><circle cx="424.4" cy="75.6" r="3.8"/><circle cx="472.8" cy="54.1" r="3.8"/><circle cx="471.4" cy="89.5" r="3.8"/><circle cx="474.6" cy="84.4" r="3.8"/></g><g fill="url(#bb)"><circle cx="426.2" cy="62.4" r="3.8"/></g><g fill="url(#by)"><circle cx="476.7" cy="78.8" r="3.8"/><circle cx="477.5" cy="72.8" r="3.8"/><circle cx="428.3" cy="82.8" r="3.8"/></g><g fill="url(#bb)"><circle cx="440.6" cy="94.6" r="3.8"/></g><g fill="url(#by)"><circle cx="476.7" cy="66.7" r="3.8"/></g><g fill="url(#bb)"><circle cx="454.1" cy="96.4" r="3.8"/><circle cx="433.8" cy="89.3" r="3.8"/></g><g fill="url(#by)"><circle cx="435" cy="51.7" r="3.8"/><circle cx="426.9" cy="69.5" r="3.8"/><circle cx="473.7" cy="60.5" r="3.8"/></g><g fill="url(#bb)"><circle cx="432.2" cy="57" r="3.8"/><circle cx="459.4" cy="93.4" r="3.8"/><circle cx="446.3" cy="93.3" r="3.8"/></g><g fill="url(#by)"><circle cx="429.4" cy="76.5" r="3.8"/><circle cx="466.8" cy="54.4" r="3.8"/><circle cx="464.1" cy="89.6" r="3.8"/></g><g fill="url(#bb)"><circle cx="459.6" cy="50.7" r="3.8"/></g><g fill="url(#by)"><circle cx="431.1" cy="63.3" r="3.8"/></g><g fill="url(#bb)"><circle cx="433.6" cy="83.1" r="3.8"/><circle cx="439.3" cy="88.8" r="3.8"/></g><g fill="url(#by)"><circle cx="467.9" cy="85" r="3.8"/></g><g fill="url(#bb)"><circle cx="449.5" cy="49.8" r="3.8"/></g><g fill="url(#by)"><circle cx="470.7" cy="79.6" r="3.8"/><circle cx="442.2" cy="52.4" r="3.8"/></g><g fill="url(#bb)"><circle cx="472" cy="73.7" r="3.8"/><circle cx="471.6" cy="67.2" r="3.8"/><circle cx="451.8" cy="91.2" r="3.8"/></g><g fill="url(#by)"><circle cx="468.3" cy="60" r="3.8"/><circle cx="432" cy="69.9" r="3.8"/></g><g fill="url(#bb)"><circle cx="438.4" cy="57.2" r="3.8"/></g><g fill="url(#by)"><circle cx="461.4" cy="55.5" r="3.8"/><circle cx="454.1" cy="53.3" r="3.8"/></g><g fill="url(#bb)"><circle cx="456.8" cy="88" r="3.8"/><circle cx="444.9" cy="87.4" r="3.8"/><circle cx="434.7" cy="76.4" r="3.8"/><circle cx="439.1" cy="82.4" r="3.8"/><circle cx="436.9" cy="62.9" r="3.8"/><circle cx="447.2" cy="55" r="3.8"/></g><g fill="url(#by)"><circle cx="461.2" cy="83.9" r="3.8"/></g><g fill="url(#bb)"><circle cx="466.2" cy="65.6" r="3.8"/></g><g fill="url(#by)"><circle cx="464.5" cy="78.8" r="3.8"/></g><g fill="url(#bb)"><circle cx="466.4" cy="72.8" r="3.8"/><circle cx="437.6" cy="69" r="3.8"/><circle cx="450.2" cy="84.9" r="3.8"/><circle cx="461.2" cy="61.6" r="3.8"/><circle cx="443.8" cy="60.6" r="3.8"/></g><g fill="url(#by)"><circle cx="455.2" cy="58.8" r="3.8"/></g><g fill="url(#bb)"><circle cx="440.2" cy="75.1" r="3.8"/><circle cx="444.5" cy="80.5" r="3.8"/><circle cx="454.9" cy="81.3" r="3.8"/></g><g fill="url(#by)"><circle cx="449.9" cy="61.4" r="3.8"/></g><g fill="url(#bb)"><circle cx="461.2" cy="70.2" r="3.8"/><circle cx="443.5" cy="66.6" r="3.8"/></g><g fill="url(#by)"><circle cx="458.7" cy="76.4" r="3.8"/><circle cx="457.1" cy="65.7" r="3.8"/></g><g fill="url(#bb)"><circle cx="449.6" cy="77.3" r="3.8"/></g><g fill="url(#by)"><circle cx="445.6" cy="72.3" r="3.8"/><circle cx="450.7" cy="67.5" r="3.8"/><circle cx="453.9" cy="72.6" r="3.8"/></g>
<path d="M406,143C404.7,146 401.3,147 402,152C402.7,157 408.3,154 408,158C407.7,162 404.7,159.7 401,164C397.3,168.3 400.3,167 397,171C393.7,175 393,174.3 391,176" fill="none" stroke="#2f9ad4" stroke-width="2.8" stroke-linecap="round"/><path d="M418,150C417,152.7 414,153.7 415,158C416,162.3 420.3,159.3 421,163C421.7,166.7 418.3,167 417,169" fill="none" stroke="#2f9ad4" stroke-width="2.4" stroke-linecap="round"/><path d="M446,166C447,168.7 450,169 449,174C448,179 444.3,176 443,181C441.7,186 446.3,183.8 445,189C443.7,194.2 441,194 439,196.5" fill="none" stroke="#2f9ad4" stroke-width="3" stroke-linecap="round"/><path d="M470,143C468.7,145.7 465.3,146.3 466,151C466.7,155.7 467.7,153.7 472,157C476.3,160.3 475,156.7 479,161C483,165.3 481.7,163.3 484,170C486.3,176.7 485.3,177.3 486,181" fill="none" stroke="#2f9ad4" stroke-width="2.8" stroke-linecap="round"/><path d="M386,124C383.3,125 382.3,127.7 378,127C373.7,126.3 376.3,121.3 373,122C369.7,122.7 368.3,124 368,129C367.7,134 372.7,134 372,137C371.3,140 368,137.7 366,138" fill="none" stroke="#2f9ad4" stroke-width="2.4" stroke-linecap="round"/><path d="M360.2,137.6l2,-3.1l3.1,-0.3l2,3.1l-2.4,3.4l-3.1,-0.3Z" fill="#e23030" stroke="#e23030" stroke-width="1.6" stroke-linejoin="round"/><path d="M382.5,181.5L396.7,193V211.5M410,181.5L396.7,193" fill="none" stroke="#ee6ad0" stroke-width="5" stroke-linecap="round" stroke-linejoin="round"/><path d="M387.4,183.2l3.4,-5l5,-0.6l3.4,5l-3.9,5.6l-5,-0.6Z" fill="#e52e2e" stroke="#e52e2e" stroke-width="1.6" stroke-linejoin="round"/><path d="M484.8,190.6l3.7,-5.6l5.6,-0.6l3.7,5.6l-4.3,6.2l-5.6,-0.6Z" fill="#e52e2e" stroke="#e52e2e" stroke-width="1.6" stroke-linejoin="round"/><path d="M415.6,151L428.6,171.8L427.8,196M444,156.5L428.6,171.8" fill="none" stroke="#25b6e6" stroke-width="4.4" stroke-linecap="round" stroke-linejoin="round"/>
</g>
<rect x="362" y="52" width="160" height="197.5" rx="3" fill="none" stroke="#6e5a58" stroke-width="0.8" opacity="0.8"/>

<defs><linearGradient id="tcell" x1="0" y1="0" x2="0" y2="1"><stop offset="0" stop-color="#c4c4c4"/><stop offset="0.5" stop-color="#dcdcdc"/><stop offset="1" stop-color="#c9c9c9"/></linearGradient><linearGradient id="hcell" x1="0" y1="0" x2="0" y2="1"><stop offset="0" stop-color="#ef8a88"/><stop offset="0.55" stop-color="#f6aeac"/><stop offset="1" stop-color="#f29694"/></linearGradient></defs>
<path d="M206,114.4V81.4Q207.8,78.8 209.7,82.8L210,89.3Q211.5,92.6 213.1,89.3L213.4,82.8Q215.2,80.2 217.1,84.2L217.4,89.1Q218.9,92.4 220.4,89.1L220.7,84.2Q222.6,78.9 224.4,82.9L224.7,89.4Q226.3,92.7 227.8,89.4L228.1,82.9Q229.9,78 231.8,82L232.1,89.2Q233.6,92.5 235.2,89.2L235.5,82Q237.3,79.3 239.2,83.3L239.5,89.9Q241,93.2 242.5,89.9L242.8,83.3Q244.7,77.7 246.5,81.7L246.8,88.7Q248.4,92 249.9,88.7L250.2,81.7Q252,77.7 253.9,81.7L254.2,89.9Q255.7,93.2 257.3,89.9L257.6,81.7Q259.4,79.5 261.2,83.5L261.6,88Q263.1,91.3 264.6,88L264.9,83.5Q268.6,77.4 272.3,81.4V114.4Q272.3,121.4 265.3,121.4H213Q206,121.4 206,114.4Z" fill="url(#tcell)" stroke="#7a7a7a" stroke-width="0.9" stroke-linejoin="round"/><ellipse cx="238.5" cy="105" rx="10" ry="7.6" fill="url(#gnuc)" stroke="#6a6a6a" stroke-width="0.5" transform="rotate(-12 238.5 105)"/>
<path d="M251,188.2V155Q252.9,153 254.8,157L255.1,163Q256.6,166.3 258.2,163L258.5,157Q260.4,151.5 262.2,155.5L262.6,161.5Q264.1,164.8 265.7,161.5L266,155.5Q267.9,152.6 269.8,156.6L270.1,161.6Q271.6,164.9 273.2,161.6L273.5,156.6Q275.4,151.6 277.2,155.6L277.6,162.1Q279.1,165.4 280.7,162.1L281,155.6Q282.9,151.1 284.8,155.1L285.1,162.7Q286.6,166 288.2,162.7L288.5,155.1Q290.4,152.3 292.2,156.3L292.6,163.6Q294.1,166.9 295.7,163.6L296,156.3Q297.9,152.6 299.8,156.6L300.1,163.1Q301.6,166.4 303.2,163.1L303.5,156.6Q305.4,152.5 307.2,156.5L307.6,163.2Q309.1,166.5 310.7,163.2L311,156.5Q314.8,151 318.5,155V188.2Q318.5,195.2 311.5,195.2H258Q251,195.2 251,188.2Z" fill="url(#hcell)" stroke="#b55252" stroke-width="0.9" stroke-linejoin="round"/><ellipse cx="284" cy="178" rx="10" ry="7.6" fill="url(#hnuc)" stroke="#a87878" stroke-width="0.5" transform="rotate(-12 284 178)"/>
<path d="M262.9,145.4L271,156.4V167.5M279.1,145.4L271,156.4" fill="none" stroke="#2a9be4" stroke-width="3.6" stroke-linecap="round" stroke-linejoin="round"/><path d="M288.1,143.4L296.2,154.4V165.5M304.3,143.4L296.2,154.4" fill="none" stroke="#ef62c0" stroke-width="3.6" stroke-linecap="round" stroke-linejoin="round"/>
<path d="M237,221.8Q246.5,222.7 252.2,225.4M235.1,227.1Q242.1,233.6 244.3,240M232.5,229.4Q236,237.2 235.3,243M226.5,230.5Q225.5,240.6 227.9,247.3M222.1,228.5Q217.1,234.2 214.1,237.3M219.3,224Q213,226.3 210.2,229M219.2,219.4Q209.4,216.4 203.8,212.6M221.6,215.2Q214.2,208.8 207.8,206.9M226.9,212.6Q225.2,205.7 221.3,202.6M232.3,213.7Q235.5,206.9 235.6,202.3M236,217.5Q244.8,212.5 249.5,207.9" fill="none" stroke="#a5d089" stroke-width="2.4" stroke-linecap="round"/><path d="M237,221.8L240.6,221.9M235.1,227.1L238,229.3M232.5,229.4L234.3,232.5M226.5,230.5L225.8,234M222.1,228.5L219.8,231.2M219.3,224L215.8,225M219.2,219.4L215.7,218.6M221.6,215.2L219.1,212.6M226.9,212.6L226.5,209.1M232.3,213.7L234.1,210.5M236,217.5L239.2,215.8" fill="none" stroke="#b3d79c" stroke-width="4.8" stroke-linecap="round"/><circle cx="228" cy="221.6" r="11.3" fill="url(#macg)"/><circle cx="228.3" cy="221.4" r="5.6" fill="url(#macn)"/><circle cx="232.2" cy="225.5" r="3.1" fill="#c6dfb6"/>
<use href="#np" transform="translate(116.8,186) scale(0.990)"/>
<g fill="none" stroke="#1a1212" stroke-width="1.7"><path d="M138.6,147L196,114.6M192.3,108L199.7,121.2"/><path d="M147.6,173H242.5M233,167.6L243.3,173L233,178.4"/><path d="M140.7,199.7L201.5,234.4M205.2,227.8L197.8,241"/></g>
<g fill="none" stroke="#8a6a68" stroke-width="1.3" stroke-dasharray="6 5"><path d="M322,150L361.5,55"/><path d="M319,205L361.5,248"/></g>
<text x="239" y="140.3" font-size="17" text-anchor="middle" textLength="67.8" lengthAdjust="spacingAndGlyphs">肿瘤细胞</text><text x="282" y="211.5" font-size="17" text-anchor="middle" textLength="50.8" lengthAdjust="spacingAndGlyphs">肝细胞</text><text x="229.3" y="265.2" font-size="17" text-anchor="middle" textLength="66.5" lengthAdjust="spacingAndGlyphs">巨噬细胞</text>

<defs><radialGradient id="kbg" cx="0.5" cy="0.5" r="0.5"><stop offset="0.55" stop-color="#fff"/><stop offset="1" stop-color="#fbeae6"/></radialGradient><radialGradient id="lbg" cx="0.5" cy="0.5" r="0.5"><stop offset="0.55" stop-color="#fff"/><stop offset="1" stop-color="#f6cdc6"/></radialGradient><linearGradient id="dropg" x1="0" y1="0" x2="0" y2="1"><stop offset="0" stop-color="#e3bfae"/><stop offset="0.55" stop-color="#f0d8ca"/><stop offset="1" stop-color="#e6c4b2"/></linearGradient></defs>
<g fill="none" stroke="#8f6e6c" stroke-width="1.5" stroke-dasharray="7 5.5"><path d="M82,344L108,331"/><path d="M75,350L62,356"/><path d="M190.5,330L226.5,350.2"/><path d="M40.5,434C42,452 46,466 51,478"/><path d="M113.5,536C124,539.5 135,541 147,541"/><path d="M228.5,508L253,471"/></g>
<path d="M46,210.5C46,222 47,232 51,238.5C56.5,246.5 68,256 68,270C68,282 58.5,290.8 46,290.8C33.5,290.8 24,282 24,270C24,256 35.5,246.5 41,238.5C45,232 46,222 46,210.5Z" fill="url(#dropg)" stroke="#c39a86" stroke-width="0.9"/><path d="M46,228C46.5,236 48,240 51.5,245C56,251 64,259 64,270C64,279.5 56,287 46,287C36,287 28,279.5 28,270C28,259 36,251 40.5,245C44,240 45.5,236 46,228Z" fill="#f7e8de" opacity="0.7"/><path d="M29,262C38,257 54,257 63,262" fill="none" stroke="#e2bba8" stroke-width="0.8" opacity="0.8"/><use href="#np" transform="translate(45,267) scale(0.510)"/><use href="#np" transform="translate(32.8,300) scale(0.380)"/><use href="#np" transform="translate(63,307) scale(0.380)"/><use href="#np" transform="translate(46,321) scale(0.380)"/><use href="#np" transform="translate(74,327) scale(0.380)"/>
<path d="M20,323C34,336 56,343 79,344.5M72.5,338.5L80,344.6L71.5,349.5" fill="none" stroke="#8f6e6c" stroke-width="1.5" stroke-linecap="round" stroke-linejoin="round"/><path d="M40.5,434.5C38,456 31,470 22.5,482.5M21.5,473L22,483.2L31,478.5" fill="none" stroke="#8f6e6c" stroke-width="1.5" stroke-linecap="round" stroke-linejoin="round"/><path d="M253,470C246,492 244,514 246.5,533.5M240.8,525.5L246.7,534.5L251.5,524.8" fill="none" stroke="#8f6e6c" stroke-width="1.5" stroke-linecap="round" stroke-linejoin="round"/>
<circle cx="149.2" cy="333.2" r="42" fill="#fff" stroke="#a58480" stroke-width="1.1"/><circle cx="149.2" cy="333.2" r="39.6" fill="#e4e4e6"/><g transform="translate(100,285) scale(0.1575)" stroke-linejoin="round" stroke-linecap="round"><g fill="#e06468" stroke="#6e4240" stroke-width="4"><rect x="118" y="212" width="50" height="20" transform="rotate(25 140 222)"/><rect x="112" y="240" width="45" height="20" transform="rotate(25 130 250)"/><rect x="425" y="270" width="48" height="22" transform="rotate(8 445 280)"/><rect x="425" y="312" width="48" height="22" transform="rotate(8 445 322)"/></g><path d="M225,195C238,160 232,130 220,116L246,100L256,80L300,75L312,112C292,132 282,160 278,195Z" fill="#3ea2c8" stroke="#6e4240" stroke-width="4"/><path d="M268,195C272,140 320,108 350,95L366,90L374,122L386,92L402,96L406,126L420,106L436,112C432,142 420,168 404,184C380,162 340,166 322,204Z" fill="#e8585c" stroke="#6e4240" stroke-width="4"/><path d="M298,212C330,176 370,170 402,186L446,200L440,226L400,216C370,216 346,236 336,252Z" fill="#3ea2c8" stroke="#6e4240" stroke-width="4"/><path d="M175,215C140,250 108,310 124,380C140,450 230,522 300,548C352,562 392,530 406,470C426,400 432,330 426,290C400,232 330,232 290,216C250,196 210,196 175,215Z" fill="#e9a2aa" stroke="#6e4240" stroke-width="5"/><path d="M148,278C150,232 200,196 250,200C290,206 302,232 290,252C260,272 200,268 148,278Z" fill="#eabfc0" stroke="#6e4240" stroke-width="4"/><path d="M340,250C362,220 412,226 430,262C446,300 432,336 416,336C392,300 362,270 340,250Z" fill="#eabfc0" stroke="#6e4240" stroke-width="4"/><g fill="none" stroke="#4aa6cc" stroke-width="4.5"><path d="M262,262C230,280 210,320 205,370"/><path d="M225,300C190,310 160,320 150,360"/><path d="M130,320C150,300 170,300 190,312"/><path d="M340,262C350,320 330,380 300,440C290,470 270,490 250,500"/><path d="M345,330C370,350 380,390 378,430"/><path d="M318,400C340,420 350,450 352,480"/><path d="M300,440C320,460 330,480 332,500"/></g><g fill="none" stroke="#d2707a" stroke-width="3"><path d="M290,260C280,300 290,340 310,370"/><path d="M210,400C230,430 260,450 280,460"/><path d="M385,300C395,340 400,380 395,420"/></g></g>
<circle cx="48.3" cy="392.6" r="40.7" fill="#fff" stroke="#a58480" stroke-width="1.1"/><circle cx="48.3" cy="392.6" r="39.5" fill="url(#kbg)"/><g transform="translate(0,345) scale(0.1575)" stroke-linejoin="round" stroke-linecap="round"><defs><linearGradient id="kfade" x1="0" x2="1"><stop offset="0.75" stop-color="#fff" stop-opacity="0"/><stop offset="1" stop-color="#fff" stop-opacity="1"/></linearGradient></defs><path d="M350,252C400,262 470,268 535,262L535,282C470,292 410,290 362,284Z" fill="#dc5e5c" stroke="#4e241c" stroke-width="5"/><path d="M372,304C430,312 490,306 535,290L540,312C490,330 440,340 410,352C395,375 380,395 362,412L352,400C368,370 380,340 372,304Z" fill="#58b4e0" stroke="#4e241c" stroke-width="5"/><path d="M372,292L440,300L375,308Z" fill="#fff" stroke="#4e241c" stroke-width="3"/><path d="M385,325C395,335 400,345 398,352L372,372Z" fill="#dc5e5c" stroke="#4e241c" stroke-width="3"/><rect x="470" y="240" width="90" height="100" fill="url(#kfade)"/><path d="M300,100C230,95 160,190 150,300C145,400 200,500 290,512C340,506 366,460 360,410C356,378 336,362 302,352C322,332 352,300 346,266C372,260 402,240 410,200C416,150 380,105 300,100Z" fill="#f08c92" stroke="#4e241c" stroke-width="6"/><path d="M170,330C175,410 215,480 285,496C325,492 350,455 344,415C300,440 240,440 200,400C185,380 175,355 170,330Z" fill="#e27078"/><path d="M330,268C355,258 385,236 393,200C396,172 385,145 365,128C380,170 372,220 330,268Z" fill="#e27078"/><path d="M302,352C322,332 352,300 346,266" fill="none" stroke="#4e241c" stroke-width="6"/><path d="M250,205C215,225 200,270 205,310" fill="none" stroke="#fac8c8" stroke-width="5"/></g>
<circle cx="76" cy="513.7" r="39.7" fill="#fff" stroke="#a58480" stroke-width="1.1"/><circle cx="76" cy="513.7" r="37.3" fill="#e3e3e5"/><g transform="translate(0,430) scale(0.22038)" stroke-linejoin="round"><path d="M365,238C400,240 425,280 428,330C430,390 410,440 380,480C355,515 335,530 310,530C275,528 250,500 255,470C262,440 300,410 315,370C325,335 318,300 325,270C332,248 348,238 365,238Z" fill="#ef9eaa" stroke="#8a4c54" stroke-width="4"/><path d="M400,270C420,320 415,400 375,470C350,510 320,525 300,520C340,510 380,450 395,390C405,340 405,300 400,270Z" fill="#e0808e"/><path d="M350,270C340,320 345,360 330,400" fill="none" stroke="#f8c4cc" stroke-width="6" stroke-linecap="round"/></g>
<circle cx="188" cy="520" r="41.4" fill="#fff" stroke="#a58480" stroke-width="1.1"/><circle cx="188" cy="520" r="39" fill="#e3e3e5"/><g transform="translate(140,470) scale(0.1575)" stroke-linejoin="round" stroke-linecap="round"><path d="M255,135C225,125 180,160 150,230C120,300 100,380 105,440C110,475 170,490 230,475C270,465 290,440 288,400C285,330 280,250 275,180C272,150 265,138 255,135Z" fill="#e9adb3" stroke="#7a4a44" stroke-width="5"/><path d="M355,135C385,125 430,160 460,230C490,300 510,380 505,440C500,475 440,490 380,475C340,465 320,440 322,400C325,330 330,250 335,180C338,150 345,138 355,135Z" fill="#e9adb3" stroke="#7a4a44" stroke-width="5"/><path d="M105,440C140,428 200,432 250,420C270,415 285,410 288,400C290,440 270,465 230,475C170,490 110,475 105,440Z" fill="#b8687a" stroke="#7a4a44" stroke-width="4"/><path d="M325,400C340,378 400,378 440,398C475,418 495,445 490,462C470,486 400,486 370,472C335,460 320,430 325,400Z" fill="#b8687a" stroke="#7a4a44" stroke-width="4"/><path d="M345,410C370,400 420,408 450,430C465,445 470,455 460,462C420,450 370,440 345,410Z" fill="#cf8a98"/><g fill="none" stroke="#7a4a44" stroke-width="3.5"><path d="M125,310C170,325 230,325 282,310"/><path d="M112,345L160,430"/><path d="M335,300C370,340 410,360 425,400"/><path d="M500,340C470,370 440,385 425,400"/></g><path d="M295,115H315V225L395,265L388,278L305,240L222,278L215,265L295,225Z" fill="#c9626e" stroke="#7a4a44" stroke-width="3"/><g fill="none" stroke="#cc6a78" stroke-width="3"><path d="M240,270C215,250 205,220 210,195"/><path d="M235,268C200,280 175,300 165,330"/><path d="M250,280C250,320 235,350 215,380"/><path d="M215,380L190,395M215,380L225,405M200,290L180,275M222,230L240,215"/><path d="M372,270C395,250 405,220 400,195"/><path d="M378,268C410,280 435,300 445,330"/><path d="M365,280C365,320 380,350 400,375"/><path d="M410,290L430,275M390,230L372,215M445,330L465,335"/></g></g>
<circle cx="242.6" cy="407" r="59" fill="#fff" stroke="#a58480" stroke-width="1.1"/><circle cx="242.6" cy="407" r="57.8" fill="url(#lbg)"/><g transform="translate(188.1,367.2) scale(0.1326,0.1325)" stroke-linejoin="round" stroke-linecap="round"><path d="M330,399L436,402C442,414 452,430 462,440L340,442C300,444 262,462 236,486C222,482 214,474 212,468C252,430 290,402 330,399Z" fill="#c9504e" stroke="#6a241c" stroke-width="9"/><path d="M214,466C240,440 270,430 290,432C296,450 280,470 262,486C244,502 214,508 192,500C176,494 176,486 190,482C200,478 208,472 214,466Z" fill="#a6dc3c" stroke="#8cc02c" stroke-width="3"/><path d="M836,300C839,307 836,312 830,316C750,360 620,414 462,440C452,430 442,414 436,402C480,399 540,386 600,371C700,345 800,318 836,300Z" fill="#c9504e" stroke="#6a241c" stroke-width="9"/><path d="M470,126C482,112 522,104 562,116C642,136 742,186 812,236C836,256 842,278 836,300C800,318 700,345 600,371C540,386 480,399 436,402C420,400 404,392 400,380C404,368 422,362 438,352C468,332 494,300 500,252C506,205 492,160 470,126Z" fill="#f08a8c" stroke="#6a241c" stroke-width="9"/><path d="M540,150C580,130 640,150 700,180C760,210 810,250 826,278C800,292 720,308 640,316C590,322 550,308 545,284C560,250 560,200 540,150Z" fill="#f5a2a2"/><path d="M470,126C492,160 506,205 500,252C494,300 468,332 438,352C422,362 404,368 400,380C404,392 420,400 436,402C442,414 452,430 462,440C452,420 450,400 456,386C470,362 500,330 516,290C528,240 512,170 470,126Z" fill="#b84848" stroke="#6a241c" stroke-width="6"/><path d="M58,522C54,480 56,420 60,340C62,260 76,178 140,126C200,84 330,80 400,94C432,99 456,108 470,126C492,160 506,205 500,252C494,300 468,332 438,352C422,362 404,368 400,380C404,392 420,400 436,402L330,399C290,402 252,430 212,468C172,508 122,542 84,550C66,553 60,542 58,522Z" fill="#ee8488" stroke="#6a241c" stroke-width="9"/><path d="M330,88C380,86 440,98 468,125C490,160 505,205 500,252C494,300 468,332 438,352C418,340 446,285 440,232C434,170 400,116 330,88Z" fill="#e06c70"/><path d="M59,430C57,470 57,500 58,522C60,542 66,553 84,550C122,542 172,508 212,468C252,430 290,402 330,399C300,384 250,392 200,412C150,432 100,442 59,430Z" fill="#e37478"/><path d="M58,522C54,480 56,420 60,340C62,260 76,178 140,126C200,84 330,80 400,94C432,99 456,108 470,126C492,160 506,205 500,252C494,300 468,332 438,352C422,362 404,368 400,380C404,392 420,400 436,402L330,399C290,402 252,430 212,468C172,508 122,542 84,550C66,553 60,542 58,522Z" fill="none" stroke="#6a241c" stroke-width="9"/><path d="M170,205C200,240 215,270 235,296C260,320 290,335 322,352" fill="none" stroke="#7cd84c" stroke-width="11"/><path d="M150,312C180,300 210,300 235,296" fill="none" stroke="#7cd84c" stroke-width="6"/><path d="M322,352C350,310 390,280 440,270C480,262 520,256 560,250L620,246" fill="none" stroke="#7cd84c" stroke-width="11"/><path d="M570,155C560,200 540,235 510,258" fill="none" stroke="#7cd84c" stroke-width="6"/><path d="M322,352C318,400 316,450 304,496" fill="none" stroke="#7cd84c" stroke-width="10"/><ellipse cx="314" cy="243" rx="56" ry="46" fill="#0a0a0a"/></g>
<g fill="none" stroke="#8f6e6c" stroke-width="1.5" stroke-dasharray="7 5.5"><path d="M233.5,377L306,309"/><path d="M236.5,414L305.5,552"/></g>
<text x="215.4" y="363.5" font-size="20" text-anchor="middle" textLength="40.3" lengthAdjust="spacingAndGlyphs">肿瘤</text><path d="M213,366.8L222.6,388.5M217.2,384.8L222.9,389.4L224.4,382" fill="none" stroke="#1a1212" stroke-width="1.2"/>
<use href="#np" transform="translate(18,497) scale(0.380)"/><use href="#np" transform="translate(261,488) scale(0.390)"/><use href="#np" transform="translate(257.5,509.4) scale(0.390)"/><use href="#np" transform="translate(265.4,528.8) scale(0.390)"/><use href="#np" transform="translate(257.5,549.6) scale(0.390)"/>

<defs><linearGradient id="sinus" x1="0" y1="0" x2="0" y2="1"><stop offset="0" stop-color="#ee7874"/><stop offset="0.3" stop-color="#ee8a86"/><stop offset="0.62" stop-color="#f6bcb8"/><stop offset="1" stop-color="#fdeeee"/></linearGradient><linearGradient id="bile" x1="0" y1="0" x2="0" y2="1"><stop offset="0" stop-color="#e6fae4"/><stop offset="0.35" stop-color="#bff2bf"/><stop offset="1" stop-color="#55de67"/></linearGradient><radialGradient id="hep" cx="0.5" cy="0.55" r="0.6"><stop offset="0" stop-color="#fbd0ce"/><stop offset="1" stop-color="#f08685"/></radialGradient><radialGradient id="gcell" cx="0.5" cy="0.55" r="0.6"><stop offset="0" stop-color="#ececec"/><stop offset="1" stop-color="#bdbdbd"/></radialGradient><radialGradient id="macg" cx="0.5" cy="0.5" r="0.5"><stop offset="0" stop-color="#d9e9cf"/><stop offset="0.7" stop-color="#c0dcae"/><stop offset="1" stop-color="#acd392"/></radialGradient><radialGradient id="macn" cx="0.45" cy="0.55" r="0.6"><stop offset="0" stop-color="#b2e68a"/><stop offset="1" stop-color="#5fb244"/></radialGradient><radialGradient id="hnuc" cx="0.5" cy="0.5" r="0.5"><stop offset="0" stop-color="#e6cfcf"/><stop offset="1" stop-color="#b98c8c"/></radialGradient><radialGradient id="gnuc" cx="0.5" cy="0.5" r="0.5"><stop offset="0" stop-color="#c9c9c9"/><stop offset="1" stop-color="#7f7f7f"/></radialGradient><clipPath id="panelclip"><rect x="307.3" y="307.5" width="256.99999999999994" height="246.0"/></clipPath></defs>
<g clip-path="url(#panelclip)"><rect x="307.3" y="307.5" width="256.99999999999994" height="132.5" fill="url(#sinus)"/><rect x="307.3" y="495" width="256.99999999999994" height="58.5" fill="url(#bile)"/><path d="M309,345.2H512.8V325.4L560.7,364L512.8,397V385H309Z" fill="#c8403c" opacity="0.28"/>
<path d="M300,474H344V498.5Q344,503.5 339,503.5H305Q300,503.5 300,498.5Z" fill="url(#hep)" stroke="#bf5555" stroke-width="0.9"/><path d="M344,474H406V498.5Q406,503.5 401,503.5H349Q344,503.5 344,498.5Z" fill="url(#hep)" stroke="#bf5555" stroke-width="0.9"/><path d="M406,474H469.5V498.5Q469.5,503.5 464.5,503.5H411Q406,503.5 406,498.5Z" fill="url(#gcell)" stroke="#7c7c7c" stroke-width="0.9"/><path d="M469.5,474H533.5V498.5Q533.5,503.5 528.5,503.5H474.5Q469.5,503.5 469.5,498.5Z" fill="url(#hep)" stroke="#bf5555" stroke-width="0.9"/><path d="M533.5,474H580V498.5Q580,503.5 575,503.5H538.5Q533.5,503.5 533.5,498.5Z" fill="url(#hep)" stroke="#bf5555" stroke-width="0.9"/><ellipse cx="313.7" cy="485.8" rx="9.5" ry="7.8" fill="url(#hnuc)" stroke="#a87878" stroke-width="0.5"/><ellipse cx="374.4" cy="485.8" rx="9.5" ry="7.8" fill="url(#hnuc)" stroke="#a87878" stroke-width="0.5"/><ellipse cx="437.8" cy="485.8" rx="9.5" ry="7.8" fill="url(#gnuc)" stroke="#6a6a6a" stroke-width="0.5"/><ellipse cx="563" cy="485.8" rx="9.5" ry="7.8" fill="url(#hnuc)" stroke="#a87878" stroke-width="0.5"/><path d="M307,471.8V437.5Q308.8,434.2 310.6,438.2L310.9,445.4Q312.4,448.7 313.8,445.4L314.1,438.2Q315.9,434.6 317.7,438.6L318,445.5Q319.5,448.8 321,445.5L321.3,438.6Q323.1,435.4 324.9,439.4L325.2,444.2Q326.6,447.5 328.1,444.2L328.4,439.4Q330.2,433.5 332,437.5L332.3,446.1Q333.8,449.4 335.3,446.1L335.6,437.5Q337.4,434.3 339.1,438.3L339.4,444.6Q340.9,447.9 342.4,444.6L342.7,438.3Q344.5,436.5 346.3,440.5L346.6,445.2Q348.1,448.5 349.6,445.2L349.9,440.5Q351.7,436 353.4,440L353.7,445.2Q355.2,448.5 356.7,445.2L357,440Q358.8,435.4 360.6,439.4L360.9,444.4Q362.4,447.7 363.9,444.4L364.2,439.4Q367.7,433.5 371.3,437.5V471.8Q371.3,477.8 365.3,477.8H313Q307,477.8 307,471.8Z" fill="url(#hep)" stroke="#bf5555" stroke-width="0.9" stroke-linejoin="round"/><path d="M371.3,471.8V437.5Q373.1,435.1 374.9,439.1L375.2,445.9Q376.7,449.2 378.2,445.9L378.5,439.1Q380.3,435.5 382.1,439.5L382.4,444.2Q383.9,447.5 385.4,444.2L385.7,439.5Q387.5,435.8 389.3,439.8L389.6,445.5Q391.1,448.8 392.6,445.5L392.9,439.8Q394.7,434.4 396.5,438.4L396.8,444.1Q398.3,447.4 399.8,444.1L400.1,438.4Q401.9,436.1 403.6,440.1L403.9,445.2Q405.4,448.5 406.9,445.2L407.2,440.1Q409,435.7 410.8,439.7L411.1,446.2Q412.6,449.5 414.1,446.2L414.4,439.7Q416.2,435.6 418,439.6L418.3,446.3Q419.8,449.6 421.3,446.3L421.6,439.6Q423.4,434.7 425.2,438.7L425.5,446Q427,449.3 428.5,446L428.8,438.7Q432.4,433.5 436,437.5V471.8Q436,477.8 430,477.8H377.3Q371.3,477.8 371.3,471.8Z" fill="url(#hep)" stroke="#bf5555" stroke-width="0.9" stroke-linejoin="round"/><path d="M436,471.8V437.5Q437.8,436.1 439.6,440.1L439.9,444.2Q441.3,447.5 442.8,444.2L443.1,440.1Q444.9,433.9 446.7,437.9L447,444.5Q448.4,447.8 449.9,444.5L450.2,437.9Q452,436.4 453.8,440.4L454.1,445.1Q455.6,448.4 457,445.1L457.3,440.4Q459.1,435.4 460.9,439.4L461.2,444.8Q462.7,448.1 464.1,444.8L464.4,439.4Q466.2,435 468,439L468.3,445Q469.8,448.3 471.3,445L471.6,439Q473.3,434.6 475.1,438.6L475.4,445.5Q476.9,448.8 478.4,445.5L478.7,438.6Q480.4,435.3 482.2,439.3L482.5,446.3Q484,449.6 485.5,446.3L485.8,439.3Q487.6,435.5 489.3,439.5L489.6,446.3Q491.1,449.6 492.6,446.3L492.9,439.5Q496.4,433.5 500,437.5V471.8Q500,477.8 494,477.8H442Q436,477.8 436,471.8Z" fill="url(#gcell)" stroke="#7c7c7c" stroke-width="0.9" stroke-linejoin="round"/><path d="M500,471.8V437.5Q501.8,435.5 503.6,439.5L503.9,444.4Q505.4,447.7 506.9,444.4L507.2,439.5Q509,436.1 510.8,440.1L511.1,446.4Q512.6,449.7 514.1,446.4L514.4,440.1Q516.2,436.2 517.9,440.2L518.2,445.4Q519.7,448.7 521.2,445.4L521.5,440.2Q523.3,435.6 525.1,439.6L525.4,444.5Q526.9,447.8 528.4,444.5L528.7,439.6Q530.5,436 532.3,440L532.6,445.4Q534.1,448.7 535.6,445.4L535.9,440Q537.7,434.4 539.5,438.4L539.8,444.2Q541.3,447.5 542.8,444.2L543.1,438.4Q544.9,436.1 546.7,440.1L547,446.5Q548.5,449.8 549.9,446.5L550.2,440.1Q552,433.8 553.8,437.8L554.1,446Q555.6,449.3 557.1,446L557.4,437.8Q561,433.5 564.6,437.5V471.8Q564.6,477.8 558.6,477.8H506Q500,477.8 500,471.8Z" fill="url(#hep)" stroke="#bf5555" stroke-width="0.9" stroke-linejoin="round"/><ellipse cx="339" cy="460.8" rx="9.5" ry="7.8" fill="url(#hnuc)" stroke="#a87878" stroke-width="0.5"/><ellipse cx="404" cy="461" rx="9.5" ry="7.8" fill="url(#hnuc)" stroke="#a87878" stroke-width="0.5"/><ellipse cx="467" cy="462" rx="9.5" ry="7.8" fill="url(#gnuc)" stroke="#6a6a6a" stroke-width="0.5"/><ellipse cx="533" cy="461" rx="9.5" ry="7.8" fill="url(#hnuc)" stroke="#a87878" stroke-width="0.5"/></g>
<path d="M323.7,402.5C325.5,400.3 341.4,402.3 350.2,401.5C359,396 378.4,396 387.3,401C396.1,402.1 409.4,399.9 412,402.2C410.2,404.8 396.1,403.7 389,405.5C380.2,413 367.9,413 359,407.5C350.2,403.7 327.2,405.5 323.7,402.5Z" fill="#f9dfc4" stroke="#9c8468" stroke-width="0.8"/><ellipse cx="373" cy="404.8" rx="6.6" ry="2" fill="#ea7412"/><path d="M465.8,403.2C467.5,401 483.2,403 492,402.2C500.7,396.7 519.9,396.7 528.6,401.7C537.3,402.8 550.4,400.6 553,402.9C551.3,405.5 537.3,404.4 530.3,406.2C521.6,413.7 509.4,413.7 500.7,408.2C492,404.4 469.3,406.2 465.8,403.2Z" fill="#f9dfc4" stroke="#9c8468" stroke-width="0.8"/><ellipse cx="515.4" cy="406" rx="6.6" ry="2" fill="#ea7412"/>
<path d="M414,347Q420,346.5 423.3,345.7M413.1,351.1Q418.3,353.8 421.4,354.8M408.9,354.7Q411.3,362.7 411.1,368.2M405.6,355.1Q405.4,362.5 406.5,367.1M401.6,353.5Q398.4,358.6 397.8,362.2M398.7,348.9Q390.4,350.1 384.8,348.8M399,344.8Q393,342.9 389.3,342.8M401.4,341.4Q396.7,334.8 395.7,329.4M405.8,339.7Q405.5,333.8 406,330.5M409.7,340.5Q412.5,333.7 412.5,328.9M412.8,343.2Q418.1,340.5 422,341" fill="none" stroke="#a5d089" stroke-width="2.1" stroke-linecap="round"/><path d="M414,347L417.1,346.8M413.1,351.1L415.8,352.6M408.9,354.7L409.9,357.6M405.6,355.1L405.4,358.2M401.6,353.5L399.8,356M398.7,348.9L395.7,349.5M399,344.8L396.1,343.7M401.4,341.4L399.4,339.1M405.8,339.7L405.6,336.6M409.7,340.5L411.1,337.7M412.8,343.2L415.3,341.5" fill="none" stroke="#b3d79c" stroke-width="4.1" stroke-linecap="round"/><circle cx="406.3" cy="347.4" r="9.6" fill="url(#macg)"/><circle cx="406.6" cy="347.2" r="4.8" fill="url(#macn)"/><circle cx="409.9" cy="350.8" r="2.6" fill="#c6dfb6"/><path d="M519.7,373.9Q526.6,373.3 530.4,370.9M518.2,378.6Q522.7,382 525.1,383.9M514.6,381.2Q516.6,386.8 517.4,390M510.7,381.6Q509.9,387.3 510.1,390.5M506.7,379.6Q501.5,384.6 497.5,386.6M504.8,376.7Q498.9,379.5 496.5,383M504.6,371.8Q496.2,369.2 491.1,366.9M507.3,367.9Q503.3,362.2 502.2,358M510.3,366.5Q509.1,360 509.4,356M515.5,367.1Q518.1,360.6 517.5,355.8M518.3,369.5Q523.3,365.6 525.4,362.4" fill="none" stroke="#a5d089" stroke-width="2.1" stroke-linecap="round"/><path d="M519.7,373.9L522.8,373.9M518.2,378.6L520.6,380.5M514.6,381.2L515.7,384.1M510.7,381.6L510.2,384.6M506.7,379.6L504.6,381.9M504.8,376.7L501.9,377.7M504.6,371.8L501.6,370.9M507.3,367.9L505.4,365.5M510.3,366.5L509.6,363.5M515.5,367.1L516.9,364.4M518.3,369.5L520.8,367.7" fill="none" stroke="#b3d79c" stroke-width="4.1" stroke-linecap="round"/><circle cx="512" cy="374" r="9.6" fill="url(#macg)"/><circle cx="512.3" cy="373.8" r="4.8" fill="url(#macn)"/><circle cx="515.6" cy="377.4" r="2.6" fill="#c6dfb6"/>
<g transform="translate(398,381.6) rotate(-40)"><ellipse rx="7.2" ry="3.8" fill="#b81d1d" stroke="#8e1212" stroke-width="0.5"/><path d="M-5.9,-0.6Q0,-5.2 5.9,-0.6" fill="none" stroke="#f4c8c4" stroke-width="1.1" stroke-linecap="round"/><ellipse cy="0.9" rx="4.3" ry="1.4" fill="#d63a34"/></g><g transform="translate(501.8,343.7) rotate(38)"><ellipse rx="7.2" ry="3.8" fill="#b81d1d" stroke="#8e1212" stroke-width="0.5"/><path d="M-5.9,-0.6Q0,-5.2 5.9,-0.6" fill="none" stroke="#f4c8c4" stroke-width="1.1" stroke-linecap="round"/><ellipse cy="0.9" rx="4.3" ry="1.4" fill="#d63a34"/></g><g transform="translate(458,382.7) rotate(12)"><ellipse rx="7.2" ry="3.8" fill="#b81d1d" stroke="#8e1212" stroke-width="0.5"/><path d="M-5.9,-0.6Q0,-5.2 5.9,-0.6" fill="none" stroke="#f4c8c4" stroke-width="1.1" stroke-linecap="round"/><ellipse cy="0.9" rx="4.3" ry="1.4" fill="#d63a34"/></g><g transform="translate(546,357.4) rotate(-42)"><ellipse rx="7.2" ry="3.8" fill="#b81d1d" stroke="#8e1212" stroke-width="0.5"/><path d="M-5.9,-0.6Q0,-5.2 5.9,-0.6" fill="none" stroke="#f4c8c4" stroke-width="1.1" stroke-linecap="round"/><ellipse cy="0.9" rx="4.3" ry="1.4" fill="#d63a34"/></g>
<use href="#np" transform="translate(475.3,347) scale(0.470)"/><use href="#np" transform="translate(432.7,403.2) scale(0.470)"/><use href="#np" transform="translate(539.3,417.4) scale(0.470)"/><use href="#np" transform="translate(398.6,459.7) scale(0.490)"/><use href="#np" transform="translate(527.6,461.5) scale(0.490)"/><use href="#np" transform="translate(356.7,490.5) scale(0.490)"/><use href="#np" transform="translate(499,487.3) scale(0.490)"/><use href="#np" transform="translate(408.5,523.6) scale(0.470)"/><use href="#np" transform="translate(458,518) scale(0.470)"/>
<text x="339" y="328.8" font-size="17" text-anchor="middle" textLength="50.8" lengthAdjust="spacingAndGlyphs">肝血窦</text><text x="344.8" y="531" font-size="17" text-anchor="middle" textLength="67.8" lengthAdjust="spacingAndGlyphs">肝胆清除</text><text x="490" y="548.6" font-size="17" text-anchor="middle" textLength="50.8" lengthAdjust="spacingAndGlyphs">胆小管</text>
<path d="M357.8,541.3H311.8M318.5,537.3L311.5,541.3L318.5,545.3" fill="none" stroke="#111" stroke-width="1.2"/><path d="M523,492.8Q506,512 483,521.5M489.5,514L482.2,522L492.5,523" fill="none" stroke="#111" stroke-width="1.3"/>

<rect x="2.8" y="564.6" width="560.6" height="66" fill="#fff" stroke="#8e6e6c" stroke-width="1.5"/>
<defs><radialGradient id="mn" cx="0.4" cy="0.35" r="0.65"><stop offset="0" stop-color="#96dffa"/><stop offset="0.45" stop-color="#33afe6"/><stop offset="1" stop-color="#198dc9"/></radialGradient><radialGradient id="fe" cx="0.4" cy="0.35" r="0.65"><stop offset="0" stop-color="#fdf2c0"/><stop offset="0.45" stop-color="#edcc6e"/><stop offset="1" stop-color="#cca546"/></radialGradient></defs><use href="#np" transform="translate(73.2,589.6) scale(0.820)"/><circle cx="165.7" cy="589.6" r="10.3" fill="url(#mn)"/><circle cx="232.2" cy="589.6" r="10.3" fill="url(#fe)"/>
<path d="M290,585.5C294,596 300,597.5 306,591C311,586 315,586.5 319,592.5C322,597.5 326,597 331,592.8" fill="none" stroke="#17a7e3" stroke-width="2.6" stroke-linecap="round"/><circle cx="332.2" cy="592.6" r="3" fill="#e52d2d"/>
<path d="M406.8,580.5L413.8,590V602.5M420.8,580.5L413.8,590" fill="none" stroke="#f06ec4" stroke-width="3.8" stroke-linecap="round" stroke-linejoin="round"/><path d="M504,580.5L511,590V602.5M518,580.5L511,590" fill="none" stroke="#2b93e3" stroke-width="3.8" stroke-linecap="round" stroke-linejoin="round"/>
<text x="72.2" y="626" font-size="15" font-weight="700" text-anchor="middle" textLength="121" lengthAdjust="spacingAndGlyphs">MnFe<tspan font-size="9.5" dy="3.5">2</tspan><tspan dy="-3.5">O</tspan><tspan font-size="9.5" dy="3.5">4</tspan><tspan dy="-3.5">-EOB-PEG</tspan></text><text x="165.5" y="626" font-size="15" font-weight="700" text-anchor="middle" textLength="20" lengthAdjust="spacingAndGlyphs">Mn</text><text x="233" y="626" font-size="15" font-weight="700" text-anchor="middle" textLength="15.5" lengthAdjust="spacingAndGlyphs">Fe</text><text x="314.4" y="626" font-size="15" font-weight="700" text-anchor="middle" textLength="61" lengthAdjust="spacingAndGlyphs">EOB-PEG</text><text x="421.5" y="626" font-size="15" font-weight="700" text-anchor="middle" textLength="83" lengthAdjust="spacingAndGlyphs">OATP1B1/B3</text><text x="515" y="626" font-size="15" font-weight="700" text-anchor="middle" textLength="67" lengthAdjust="spacingAndGlyphs">SLC39A14</text>

<polygon points="584.3,242 595.3,242 622.8,294.5 595.3,347.2 584.3,347.2 611.8,294.5" fill="#b2afaf"/>
<text x="755.2" y="77.2" font-size="23.8" font-weight="700" text-anchor="middle" textLength="166.4" lengthAdjust="spacingAndGlyphs">磁共振肝胆成像</text>
<path d="M644.6,126.3V575" stroke="#2a1a1a" stroke-width="1.3" fill="none"/><path d="M639.2,562.2L644.6,575.5L650,562.2" stroke="#2a1a1a" stroke-width="1.5" fill="none" stroke-linejoin="miter"/>
<text x="615.6" y="549.5" font-size="23" font-weight="700" text-anchor="middle" textLength="45.6" lengthAdjust="spacingAndGlyphs">时间</text>
<g transform="translate(664,95.8) scale(0.2361)" stroke-linejoin="round" stroke-linecap="round"><path d="M330,399L436,402C442,414 452,430 462,440L340,442C300,444 262,462 236,486C222,482 214,474 212,468C252,430 290,402 330,399Z" fill="#555" stroke="#1c1c1c" stroke-width="9"/><path d="M214,466C240,440 270,430 290,432C296,450 280,470 262,486C244,502 214,508 192,500C176,494 176,486 190,482C200,478 208,472 214,466Z" fill="#0a0a0a" stroke="#0a0a0a" stroke-width="4"/><path d="M836,300C839,307 836,312 830,316C750,360 620,414 462,440C452,430 442,414 436,402C480,399 540,386 600,371C700,345 800,318 836,300Z" fill="#555" stroke="#1c1c1c" stroke-width="9"/><path d="M470,126C482,112 522,104 562,116C642,136 742,186 812,236C836,256 842,278 836,300C800,318 700,345 600,371C540,386 480,399 436,402C420,400 404,392 400,380C404,368 422,362 438,352C468,332 494,300 500,252C506,205 492,160 470,126Z" fill="#6c6c6c" stroke="#1c1c1c" stroke-width="9"/><path d="M540,150C580,130 640,150 700,180C760,210 810,250 826,278C800,292 720,308 640,316C590,322 550,308 545,284C560,250 560,200 540,150Z" fill="#7e7e7e"/><path d="M470,126C492,160 506,205 500,252C494,300 468,332 438,352C422,362 404,368 400,380C404,392 420,400 436,402C442,414 452,430 462,440C452,420 450,400 456,386C470,362 500,330 516,290C528,240 512,170 470,126Z" fill="#4a4a4a" stroke="#1c1c1c" stroke-width="6"/><path d="M58,522C54,480 56,420 60,340C62,260 76,178 140,126C200,84 330,80 400,94C432,99 456,108 470,126C492,160 506,205 500,252C494,300 468,332 438,352C422,362 404,368 400,380C404,392 420,400 436,402L330,399C290,402 252,430 212,468C172,508 122,542 84,550C66,553 60,542 58,522Z" fill="#6c6c6c" stroke="#1c1c1c" stroke-width="9"/><path d="M330,88C380,86 440,98 468,125C490,160 505,205 500,252C494,300 468,332 438,352C418,340 446,285 440,232C434,170 400,116 330,88Z" fill="#818181"/><path d="M59,430C57,470 57,500 58,522C60,542 66,553 84,550C122,542 172,508 212,468C252,430 290,402 330,399C300,384 250,392 200,412C150,432 100,442 59,430Z" fill="#7a7a7a"/><path d="M58,522C54,480 56,420 60,340C62,260 76,178 140,126C200,84 330,80 400,94C432,99 456,108 470,126C492,160 506,205 500,252C494,300 468,332 438,352C422,362 404,368 400,380C404,392 420,400 436,402L330,399C290,402 252,430 212,468C172,508 122,542 84,550C66,553 60,542 58,522Z" fill="none" stroke="#1c1c1c" stroke-width="9"/><path d="M170,205C200,240 215,270 235,296C260,320 290,335 322,352" fill="none" stroke="#111" stroke-width="11"/><path d="M150,312C180,300 210,300 235,296" fill="none" stroke="#111" stroke-width="6"/><path d="M322,352C350,310 390,280 440,270C480,262 520,256 560,250L620,246" fill="none" stroke="#111" stroke-width="11"/><path d="M570,155C560,200 540,235 510,258" fill="none" stroke="#111" stroke-width="6"/><path d="M322,352C318,400 316,450 304,496" fill="none" stroke="#111" stroke-width="10"/><path d="M290,338L322,352L350,318L322,376Z" fill="#111"/><ellipse cx="293" cy="257" rx="37" ry="27" fill="none" stroke="#141414" stroke-width="4.6" stroke-dasharray="9 6"/></g>
<g transform="translate(664,270) scale(0.2361)" stroke-linejoin="round" stroke-linecap="round"><path d="M330,399L436,402C442,414 452,430 462,440L340,442C300,444 262,462 236,486C222,482 214,474 212,468C252,430 290,402 330,399Z" fill="#8c8c8c" stroke="#2a2a2a" stroke-width="9"/><path d="M214,466C240,440 270,430 290,432C296,450 280,470 262,486C244,502 214,508 192,500C176,494 176,486 190,482C200,478 208,472 214,466Z" fill="#a4a4a4" stroke="#8a8a8a" stroke-width="3"/><path d="M836,300C839,307 836,312 830,316C750,360 620,414 462,440C452,430 442,414 436,402C480,399 540,386 600,371C700,345 800,318 836,300Z" fill="#a0a0a0" stroke="#2a2a2a" stroke-width="9"/><path d="M470,126C482,112 522,104 562,116C642,136 742,186 812,236C836,256 842,278 836,300C800,318 700,345 600,371C540,386 480,399 436,402C420,400 404,392 400,380C404,368 422,362 438,352C468,332 494,300 500,252C506,205 492,160 470,126Z" fill="#e0e0e0" stroke="#2a2a2a" stroke-width="9"/><path d="M540,150C580,130 640,150 700,180C760,210 810,250 826,278C800,292 720,308 640,316C590,322 550,308 545,284C560,250 560,200 540,150Z" fill="#ebebeb"/><path d="M470,126C492,160 506,205 500,252C494,300 468,332 438,352C422,362 404,368 400,380C404,392 420,400 436,402C442,414 452,430 462,440C452,420 450,400 456,386C470,362 500,330 516,290C528,240 512,170 470,126Z" fill="#7a7a7a" stroke="#2a2a2a" stroke-width="6"/><path d="M58,522C54,480 56,420 60,340C62,260 76,178 140,126C200,84 330,80 400,94C432,99 456,108 470,126C492,160 506,205 500,252C494,300 468,332 438,352C422,362 404,368 400,380C404,392 420,400 436,402L330,399C290,402 252,430 212,468C172,508 122,542 84,550C66,553 60,542 58,522Z" fill="#e0e0e0" stroke="#2a2a2a" stroke-width="9"/><path d="M330,88C380,86 440,98 468,125C490,160 505,205 500,252C494,300 468,332 438,352C418,340 446,285 440,232C434,170 400,116 330,88Z" fill="#c6c6c6"/><path d="M59,430C57,470 57,500 58,522C60,542 66,553 84,550C122,542 172,508 212,468C252,430 290,402 330,399C300,384 250,392 200,412C150,432 100,442 59,430Z" fill="#bdbdbd"/><path d="M58,522C54,480 56,420 60,340C62,260 76,178 140,126C200,84 330,80 400,94C432,99 456,108 470,126C492,160 506,205 500,252C494,300 468,332 438,352C422,362 404,368 400,380C404,392 420,400 436,402L330,399C290,402 252,430 212,468C172,508 122,542 84,550C66,553 60,542 58,522Z" fill="none" stroke="#2a2a2a" stroke-width="9"/><path d="M170,205C200,240 215,270 235,296C260,320 290,335 322,352" fill="none" stroke="#9c9c9c" stroke-width="11"/><path d="M150,312C180,300 210,300 235,296" fill="none" stroke="#9c9c9c" stroke-width="6"/><path d="M322,352C350,310 390,280 440,270C480,262 520,256 560,250L620,246" fill="none" stroke="#9c9c9c" stroke-width="11"/><path d="M570,155C560,200 540,235 510,258" fill="none" stroke="#9c9c9c" stroke-width="6"/><path d="M322,352C318,400 316,450 304,496" fill="none" stroke="#9c9c9c" stroke-width="10"/><path d="M290,338L322,352L350,318L322,376Z" fill="#9c9c9c"/><ellipse cx="297" cy="225" rx="38" ry="28" fill="#000"/></g>
<g transform="translate(665.2,445.8) scale(0.2361)" stroke-linejoin="round" stroke-linecap="round"><path d="M330,399L436,402C442,414 452,430 462,440L340,442C300,444 262,462 236,486C222,482 214,474 212,468C252,430 290,402 330,399Z" fill="#5e5e5e" stroke="#262626" stroke-width="9"/><path d="M214,466C240,440 270,430 290,432C296,450 280,470 262,486C244,502 214,508 192,500C176,494 176,486 190,482C200,478 208,472 214,466Z" fill="#fff" stroke="#8a6a5a" stroke-width="2.5"/><path d="M836,300C839,307 836,312 830,316C750,360 620,414 462,440C452,430 442,414 436,402C480,399 540,386 600,371C700,345 800,318 836,300Z" fill="#5e5e5e" stroke="#262626" stroke-width="9"/><path d="M470,126C482,112 522,104 562,116C642,136 742,186 812,236C836,256 842,278 836,300C800,318 700,345 600,371C540,386 480,399 436,402C420,400 404,392 400,380C404,368 422,362 438,352C468,332 494,300 500,252C506,205 492,160 470,126Z" fill="#8c8c8c" stroke="#262626" stroke-width="9"/><path d="M540,150C580,130 640,150 700,180C760,210 810,250 826,278C800,292 720,308 640,316C590,322 550,308 545,284C560,250 560,200 540,150Z" fill="#a2a2a2"/><path d="M470,126C492,160 506,205 500,252C494,300 468,332 438,352C422,362 404,368 400,380C404,392 420,400 436,402C442,414 452,430 462,440C452,420 450,400 456,386C470,362 500,330 516,290C528,240 512,170 470,126Z" fill="#555" stroke="#262626" stroke-width="6"/><path d="M58,522C54,480 56,420 60,340C62,260 76,178 140,126C200,84 330,80 400,94C432,99 456,108 470,126C492,160 506,205 500,252C494,300 468,332 438,352C422,362 404,368 400,380C404,392 420,400 436,402L330,399C290,402 252,430 212,468C172,508 122,542 84,550C66,553 60,542 58,522Z" fill="#8c8c8c" stroke="#262626" stroke-width="9"/><path d="M330,88C380,86 440,98 468,125C490,160 505,205 500,252C494,300 468,332 438,352C418,340 446,285 440,232C434,170 400,116 330,88Z" fill="#a6a6a6"/><path d="M59,430C57,470 57,500 58,522C60,542 66,553 84,550C122,542 172,508 212,468C252,430 290,402 330,399C300,384 250,392 200,412C150,432 100,442 59,430Z" fill="#a0a0a0"/><path d="M58,522C54,480 56,420 60,340C62,260 76,178 140,126C200,84 330,80 400,94C432,99 456,108 470,126C492,160 506,205 500,252C494,300 468,332 438,352C422,362 404,368 400,380C404,392 420,400 436,402L330,399C290,402 252,430 212,468C172,508 122,542 84,550C66,553 60,542 58,522Z" fill="none" stroke="#262626" stroke-width="9"/><path d="M170,205C200,240 215,270 235,296C260,320 290,335 322,352" fill="none" stroke="#fff" stroke-width="11"/><path d="M150,312C180,300 210,300 235,296" fill="none" stroke="#fff" stroke-width="6"/><path d="M322,352C350,310 390,280 440,270C480,262 520,256 560,250L620,246" fill="none" stroke="#fff" stroke-width="11"/><path d="M570,155C560,200 540,235 510,258" fill="none" stroke="#fff" stroke-width="6"/><path d="M322,352C318,400 316,450 304,496" fill="none" stroke="#fff" stroke-width="10"/><path d="M290,338L322,352L350,318L322,376Z" fill="#fff"/><ellipse cx="297" cy="225" rx="38" ry="28" fill="#000"/></g>
<text x="711.8" y="281" font-size="20" text-anchor="middle" textLength="40.3" lengthAdjust="spacingAndGlyphs">肿瘤</text>
<path d="M711.2,284.5L730.8,312" stroke="#2a1a1a" stroke-width="1.2" fill="none"/><path d="M724.2,308.5L731.3,312.8L730.6,304.5" stroke="#2a1a1a" stroke-width="1.2" fill="none"/>

</svg>
</body></html>
